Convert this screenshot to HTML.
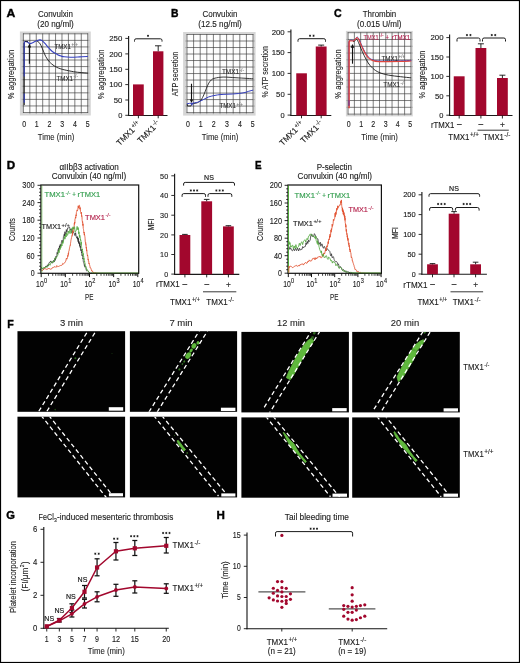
<!DOCTYPE html>
<html><head><meta charset="utf-8"><title>Figure</title>
<style>
html,body{margin:0;padding:0;background:#fff;}
body{width:520px;height:663px;overflow:hidden;}
svg{display:block;font-family:"Liberation Sans",sans-serif;opacity:0.999;}
</style></head><body>
<svg width="520" height="663" viewBox="0 0 520 663">
<rect x="0" y="0" width="520" height="663" fill="#fff" />
<text x="6.5" y="16.8" font-size="11.8" text-anchor="start" fill="#000" stroke="#000" stroke-width="0.4" textLength="8.8" lengthAdjust="spacingAndGlyphs" font-weight="bold">A</text>
<text x="55.5" y="17.2" font-size="8.9" text-anchor="middle" fill="#1c1c1c" stroke="#1c1c1c" stroke-width="0.13" textLength="35" lengthAdjust="spacingAndGlyphs">Convulxin</text>
<text x="55.5" y="27.2" font-size="8.9" text-anchor="middle" fill="#1c1c1c" stroke="#1c1c1c" stroke-width="0.13" textLength="36.5" lengthAdjust="spacingAndGlyphs">(20 ng/ml)</text>
<rect x="19.9" y="31.5" width="70.9" height="84" fill="#d6d6d6" />
<rect x="23.1" y="33.5" width="64.9" height="79.3" fill="#fdfdfd" />
<line x1="23.4" y1="33.4" x2="23.4" y2="112.9" stroke="#3c3c3c" stroke-width="0.66" />
<line x1="29.83" y1="33.4" x2="29.83" y2="112.9" stroke="#3c3c3c" stroke-width="0.66" />
<line x1="29.83" y1="112.9" x2="29.83" y2="114.1" stroke="#9a9a9a" stroke-width="0.7" />
<line x1="36.26" y1="33.4" x2="36.26" y2="112.9" stroke="#3c3c3c" stroke-width="0.66" />
<line x1="36.26" y1="112.9" x2="36.26" y2="114.1" stroke="#9a9a9a" stroke-width="0.7" />
<line x1="42.69" y1="33.4" x2="42.69" y2="112.9" stroke="#3c3c3c" stroke-width="0.66" />
<line x1="42.69" y1="112.9" x2="42.69" y2="114.1" stroke="#9a9a9a" stroke-width="0.7" />
<line x1="49.12" y1="33.4" x2="49.12" y2="112.9" stroke="#3c3c3c" stroke-width="0.66" />
<line x1="49.12" y1="112.9" x2="49.12" y2="114.1" stroke="#9a9a9a" stroke-width="0.7" />
<line x1="55.55" y1="33.4" x2="55.55" y2="112.9" stroke="#3c3c3c" stroke-width="0.66" />
<line x1="55.55" y1="112.9" x2="55.55" y2="114.1" stroke="#9a9a9a" stroke-width="0.7" />
<line x1="61.98" y1="33.4" x2="61.98" y2="112.9" stroke="#3c3c3c" stroke-width="0.66" />
<line x1="61.98" y1="112.9" x2="61.98" y2="114.1" stroke="#9a9a9a" stroke-width="0.7" />
<line x1="68.41" y1="33.4" x2="68.41" y2="112.9" stroke="#3c3c3c" stroke-width="0.66" />
<line x1="68.41" y1="112.9" x2="68.41" y2="114.1" stroke="#9a9a9a" stroke-width="0.7" />
<line x1="74.84" y1="33.4" x2="74.84" y2="112.9" stroke="#3c3c3c" stroke-width="0.66" />
<line x1="74.84" y1="112.9" x2="74.84" y2="114.1" stroke="#9a9a9a" stroke-width="0.7" />
<line x1="81.27" y1="33.4" x2="81.27" y2="112.9" stroke="#3c3c3c" stroke-width="0.66" />
<line x1="81.27" y1="112.9" x2="81.27" y2="114.1" stroke="#9a9a9a" stroke-width="0.7" />
<line x1="87.7" y1="33.4" x2="87.7" y2="112.9" stroke="#3c3c3c" stroke-width="0.66" />
<line x1="23" y1="33.8" x2="88.1" y2="33.8" stroke="#3c3c3c" stroke-width="0.66" />
<line x1="23" y1="40.36" x2="88.1" y2="40.36" stroke="#3c3c3c" stroke-width="0.66" />
<line x1="88.1" y1="40.36" x2="89.5" y2="40.36" stroke="#9a9a9a" stroke-width="0.7" />
<line x1="21.6" y1="40.36" x2="23" y2="40.36" stroke="#9a9a9a" stroke-width="0.7" />
<line x1="23" y1="46.92" x2="88.1" y2="46.92" stroke="#3c3c3c" stroke-width="0.66" />
<line x1="88.1" y1="46.92" x2="89.5" y2="46.92" stroke="#9a9a9a" stroke-width="0.7" />
<line x1="21.6" y1="46.92" x2="23" y2="46.92" stroke="#9a9a9a" stroke-width="0.7" />
<line x1="23" y1="53.47" x2="88.1" y2="53.47" stroke="#3c3c3c" stroke-width="0.66" />
<line x1="88.1" y1="53.47" x2="89.5" y2="53.47" stroke="#9a9a9a" stroke-width="0.7" />
<line x1="21.6" y1="53.47" x2="23" y2="53.47" stroke="#9a9a9a" stroke-width="0.7" />
<line x1="23" y1="60.03" x2="88.1" y2="60.03" stroke="#3c3c3c" stroke-width="0.66" />
<line x1="88.1" y1="60.03" x2="89.5" y2="60.03" stroke="#9a9a9a" stroke-width="0.7" />
<line x1="21.6" y1="60.03" x2="23" y2="60.03" stroke="#9a9a9a" stroke-width="0.7" />
<line x1="23" y1="66.59" x2="88.1" y2="66.59" stroke="#3c3c3c" stroke-width="0.66" />
<line x1="88.1" y1="66.59" x2="89.5" y2="66.59" stroke="#9a9a9a" stroke-width="0.7" />
<line x1="21.6" y1="66.59" x2="23" y2="66.59" stroke="#9a9a9a" stroke-width="0.7" />
<line x1="23" y1="73.15" x2="88.1" y2="73.15" stroke="#3c3c3c" stroke-width="0.66" />
<line x1="88.1" y1="73.15" x2="89.5" y2="73.15" stroke="#9a9a9a" stroke-width="0.7" />
<line x1="21.6" y1="73.15" x2="23" y2="73.15" stroke="#9a9a9a" stroke-width="0.7" />
<line x1="23" y1="79.71" x2="88.1" y2="79.71" stroke="#3c3c3c" stroke-width="0.66" />
<line x1="88.1" y1="79.71" x2="89.5" y2="79.71" stroke="#9a9a9a" stroke-width="0.7" />
<line x1="21.6" y1="79.71" x2="23" y2="79.71" stroke="#9a9a9a" stroke-width="0.7" />
<line x1="23" y1="86.27" x2="88.1" y2="86.27" stroke="#3c3c3c" stroke-width="0.66" />
<line x1="88.1" y1="86.27" x2="89.5" y2="86.27" stroke="#9a9a9a" stroke-width="0.7" />
<line x1="21.6" y1="86.27" x2="23" y2="86.27" stroke="#9a9a9a" stroke-width="0.7" />
<line x1="23" y1="92.83" x2="88.1" y2="92.83" stroke="#3c3c3c" stroke-width="0.66" />
<line x1="88.1" y1="92.83" x2="89.5" y2="92.83" stroke="#9a9a9a" stroke-width="0.7" />
<line x1="21.6" y1="92.83" x2="23" y2="92.83" stroke="#9a9a9a" stroke-width="0.7" />
<line x1="23" y1="99.38" x2="88.1" y2="99.38" stroke="#3c3c3c" stroke-width="0.66" />
<line x1="88.1" y1="99.38" x2="89.5" y2="99.38" stroke="#9a9a9a" stroke-width="0.7" />
<line x1="21.6" y1="99.38" x2="23" y2="99.38" stroke="#9a9a9a" stroke-width="0.7" />
<line x1="23" y1="105.94" x2="88.1" y2="105.94" stroke="#3c3c3c" stroke-width="0.66" />
<line x1="88.1" y1="105.94" x2="89.5" y2="105.94" stroke="#9a9a9a" stroke-width="0.7" />
<line x1="21.6" y1="105.94" x2="23" y2="105.94" stroke="#9a9a9a" stroke-width="0.7" />
<line x1="23" y1="112.5" x2="88.1" y2="112.5" stroke="#3c3c3c" stroke-width="0.66" />
<line x1="24.2" y1="43" x2="24.2" y2="104.9" stroke="#1a1a1a" stroke-width="1.1" />
<path d="M37.2,41.1 C37.53,41.35 38.55,41.83 39.2,42.6 C39.85,43.37 40.4,44.28 41.1,45.7 C41.8,47.12 42.63,49.3 43.4,51.1 C44.17,52.9 44.8,54.83 45.7,56.5 C46.6,58.17 48.02,60.05 48.8,61.1 C49.58,62.15 49.7,62.15 50.4,62.8 C51.1,63.45 51.98,64.27 53,65 C54.02,65.73 55.33,66.6 56.5,67.2 C57.67,67.8 58.72,68.17 60,68.6 C61.28,69.03 61.95,69.28 64.2,69.8 C66.45,70.32 70.67,71.23 73.5,71.7 C76.33,72.17 78.87,72.37 81.2,72.6 C83.53,72.83 86.45,73.02 87.5,73.1" fill="none" stroke="#1a1a1a" stroke-width="0.9" stroke-linejoin="round" stroke-linecap="round" />
<polyline points="24.2,76 24.2,60 24.2,43.4 24.6,42" fill="none" stroke="#3540c0" stroke-width="1.1" stroke-linejoin="round" stroke-linecap="round" />
<path d="M24.6,42 C24.78,41.92 25.22,41.5 25.7,41.5 C26.18,41.5 26.87,41.63 27.5,42 C28.13,42.37 28.75,43.53 29.5,43.7 C30.25,43.87 31,43.42 32,43 C33,42.58 34.5,41.67 35.5,41.2 C36.5,40.73 37.27,40.42 38,40.2 C38.73,39.98 39.23,39.83 39.9,39.9 C40.57,39.97 41.17,40.02 42,40.6 C42.83,41.18 43.77,42.17 44.9,43.4 C46.03,44.63 47.52,46.6 48.8,48 C50.08,49.4 51.2,50.73 52.6,51.8 C54,52.87 55.8,53.7 57.2,54.4 C58.6,55.1 59.83,55.6 61,56 C62.17,56.4 62.63,56.6 64.2,56.8 C65.77,57 67.83,57.18 70.4,57.2 C72.97,57.22 76.75,57.02 79.6,56.9 C82.45,56.78 86.18,56.57 87.5,56.5" fill="none" stroke="#3540c0" stroke-width="1.1" stroke-linejoin="round" stroke-linecap="round" />
<line x1="24.8" y1="41.5" x2="28" y2="41.6" stroke="#15153a" stroke-width="0.9" />
<line x1="24.2" y1="93.6" x2="24.2" y2="102.8" stroke="#3540c0" stroke-width="1.1" />
<line x1="29.4" y1="63.7" x2="29.4" y2="45.88" stroke="#111" stroke-width="1.1" />
<path d="M29.4,43.6 L27.65,47.4 L31.15,47.4 Z" fill="#111"/>
<text x="54.4" y="48.5" font-size="6.6" text-anchor="start" fill="#2a2a2a" stroke="#2a2a2a" stroke-width="0.08" textLength="16.5" lengthAdjust="spacingAndGlyphs">TMX1</text>
<text x="71.4" y="46.26" font-size="5.15" text-anchor="start" fill="#777" stroke="#777" stroke-width="0.12" textLength="6.5" lengthAdjust="spacingAndGlyphs">+/+</text>
<text x="56.5" y="80.6" font-size="6.6" text-anchor="start" fill="#2a2a2a" stroke="#2a2a2a" stroke-width="0.08" textLength="16.5" lengthAdjust="spacingAndGlyphs">TMX1</text>
<text x="73.5" y="78.36" font-size="5.15" text-anchor="start" fill="#777" stroke="#777" stroke-width="0.12" textLength="4.6" lengthAdjust="spacingAndGlyphs">-/-</text>
<text x="24.25" y="126.6" font-size="9" text-anchor="middle" fill="#1c1c1c" stroke="#1c1c1c" stroke-width="0.13" textLength="3.9" lengthAdjust="spacingAndGlyphs">0</text>
<text x="36.75" y="126.6" font-size="9" text-anchor="middle" fill="#1c1c1c" stroke="#1c1c1c" stroke-width="0.13" textLength="3.9" lengthAdjust="spacingAndGlyphs">1</text>
<text x="49.4" y="126.6" font-size="9" text-anchor="middle" fill="#1c1c1c" stroke="#1c1c1c" stroke-width="0.13" textLength="3.9" lengthAdjust="spacingAndGlyphs">2</text>
<text x="62.1" y="126.6" font-size="9" text-anchor="middle" fill="#1c1c1c" stroke="#1c1c1c" stroke-width="0.13" textLength="3.9" lengthAdjust="spacingAndGlyphs">3</text>
<text x="75" y="126.6" font-size="9" text-anchor="middle" fill="#1c1c1c" stroke="#1c1c1c" stroke-width="0.13" textLength="3.9" lengthAdjust="spacingAndGlyphs">4</text>
<text x="87.6" y="126.6" font-size="9" text-anchor="middle" fill="#1c1c1c" stroke="#1c1c1c" stroke-width="0.13" textLength="3.9" lengthAdjust="spacingAndGlyphs">5</text>
<text x="56" y="139.5" font-size="9.5" text-anchor="middle" fill="#1c1c1c" stroke="#1c1c1c" stroke-width="0.1" textLength="36.5" lengthAdjust="spacingAndGlyphs">Time (min)</text>
<text x="13.6" y="74.5" font-size="9.5" text-anchor="middle" fill="#1c1c1c" stroke="#1c1c1c" stroke-width="0.1" textLength="49.5" lengthAdjust="spacingAndGlyphs" transform="rotate(-90 13.6 74.5)">% aggregation</text>
<text x="103.9" y="74.3" font-size="9.3" text-anchor="middle" fill="#1c1c1c" stroke="#1c1c1c" stroke-width="0.1" textLength="50" lengthAdjust="spacingAndGlyphs" transform="rotate(-90 103.9 74.3)">% aggregation</text>
<line x1="128.6" y1="36" x2="128.6" y2="116.05" stroke="#1a1a1a" stroke-width="1.15" />
<line x1="128.05" y1="115.5" x2="167.5" y2="115.5" stroke="#1a1a1a" stroke-width="1.15" />
<line x1="125.3" y1="38.4" x2="128.6" y2="38.4" stroke="#1a1a1a" stroke-width="0.9" />
<text x="122.3" y="41.17" font-size="7.7" text-anchor="end" fill="#1c1c1c" stroke="#1c1c1c" stroke-width="0.13" textLength="13.05" lengthAdjust="spacingAndGlyphs">250</text>
<line x1="125.3" y1="53.9" x2="128.6" y2="53.9" stroke="#1a1a1a" stroke-width="0.9" />
<text x="122.3" y="56.67" font-size="7.7" text-anchor="end" fill="#1c1c1c" stroke="#1c1c1c" stroke-width="0.13" textLength="13.05" lengthAdjust="spacingAndGlyphs">200</text>
<line x1="125.3" y1="69.3" x2="128.6" y2="69.3" stroke="#1a1a1a" stroke-width="0.9" />
<text x="122.3" y="72.07" font-size="7.7" text-anchor="end" fill="#1c1c1c" stroke="#1c1c1c" stroke-width="0.13" textLength="13.05" lengthAdjust="spacingAndGlyphs">150</text>
<line x1="125.3" y1="84.6" x2="128.6" y2="84.6" stroke="#1a1a1a" stroke-width="0.9" />
<text x="122.3" y="87.37" font-size="7.7" text-anchor="end" fill="#1c1c1c" stroke="#1c1c1c" stroke-width="0.13" textLength="13.05" lengthAdjust="spacingAndGlyphs">100</text>
<line x1="125.3" y1="100" x2="128.6" y2="100" stroke="#1a1a1a" stroke-width="0.9" />
<text x="122.3" y="102.77" font-size="7.7" text-anchor="end" fill="#1c1c1c" stroke="#1c1c1c" stroke-width="0.13" textLength="8.6" lengthAdjust="spacingAndGlyphs">50</text>
<line x1="125.3" y1="115.3" x2="128.6" y2="115.3" stroke="#1a1a1a" stroke-width="0.9" />
<text x="122.3" y="118.07" font-size="7.7" text-anchor="end" fill="#1c1c1c" stroke="#1c1c1c" stroke-width="0.13" textLength="4.15" lengthAdjust="spacingAndGlyphs">0</text>
<rect x="133" y="84.4" width="10.75" height="31.1" fill="#a2072d" />
<rect x="153" y="51.3" width="10.4" height="64.2" fill="#a2072d" />
<line x1="158.2" y1="51.3" x2="158.2" y2="45.8" stroke="#111" stroke-width="0.9" />
<line x1="155" y1="45.8" x2="161.4" y2="45.8" stroke="#111" stroke-width="0.9" />
<path d="M134.5,41.6 L134.5,40.4 Q134.5,38.8 136.1,38.8 L160.4,38.8 Q162,38.8 162,40.4 L162,41.6" fill="none" stroke="#1a1a1a" stroke-width="1"/>
<circle cx="148" cy="35.8" r="0.75" fill="#1e1e1e"/>
<line x1="148" y1="34.65" x2="148" y2="36.95" stroke="#1e1e1e" stroke-width="0.55"/>
<line x1="147" y1="35.22" x2="149" y2="36.38" stroke="#1e1e1e" stroke-width="0.55"/>
<line x1="149" y1="35.22" x2="147" y2="36.38" stroke="#1e1e1e" stroke-width="0.55"/>
<line x1="138.4" y1="115.5" x2="138.4" y2="118.3" stroke="#111" stroke-width="0.9" />
<line x1="158.2" y1="115.5" x2="158.2" y2="118.3" stroke="#111" stroke-width="0.9" />
<g transform="rotate(-45 141 124.8)">
<text x="110.8" y="124.8" font-size="8.3" text-anchor="start" fill="#1c1c1c" stroke="#1c1c1c" stroke-width="0.13" textLength="21.9" lengthAdjust="spacingAndGlyphs">TMX1</text>
<text x="133.2" y="121.98" font-size="6.47" text-anchor="start" fill="#1c1c1c" stroke="#1c1c1c" stroke-width="0.12" textLength="8" lengthAdjust="spacingAndGlyphs">+/+</text>
</g>
<g transform="rotate(-45 160.4 124.2)">
<text x="132.6" y="124.2" font-size="8.3" text-anchor="start" fill="#1c1c1c" stroke="#1c1c1c" stroke-width="0.13" textLength="21.9" lengthAdjust="spacingAndGlyphs">TMX1</text>
<text x="155" y="121.38" font-size="6.47" text-anchor="start" fill="#1c1c1c" stroke="#1c1c1c" stroke-width="0.12" textLength="5.6" lengthAdjust="spacingAndGlyphs">-/-</text>
</g>
<text x="171.1" y="16.8" font-size="11.8" text-anchor="start" fill="#000" stroke="#000" stroke-width="0.4" textLength="7.5" lengthAdjust="spacingAndGlyphs" font-weight="bold">B</text>
<text x="220" y="17.2" font-size="8.9" text-anchor="middle" fill="#1c1c1c" stroke="#1c1c1c" stroke-width="0.13" textLength="35" lengthAdjust="spacingAndGlyphs">Convulxin</text>
<text x="220" y="27.2" font-size="8.9" text-anchor="middle" fill="#1c1c1c" stroke="#1c1c1c" stroke-width="0.13" textLength="43.5" lengthAdjust="spacingAndGlyphs">(12.5 ng/ml)</text>
<rect x="183.1" y="32" width="72.5" height="83.6" fill="#d6d6d6" />
<rect x="186.7" y="34.2" width="66.6" height="78.7" fill="#fdfdfd" />
<line x1="187" y1="34.1" x2="187" y2="113" stroke="#3c3c3c" stroke-width="0.66" />
<line x1="193.6" y1="34.1" x2="193.6" y2="113" stroke="#3c3c3c" stroke-width="0.66" />
<line x1="193.6" y1="113" x2="193.6" y2="114.2" stroke="#9a9a9a" stroke-width="0.7" />
<line x1="200.2" y1="34.1" x2="200.2" y2="113" stroke="#3c3c3c" stroke-width="0.66" />
<line x1="200.2" y1="113" x2="200.2" y2="114.2" stroke="#9a9a9a" stroke-width="0.7" />
<line x1="206.8" y1="34.1" x2="206.8" y2="113" stroke="#3c3c3c" stroke-width="0.66" />
<line x1="206.8" y1="113" x2="206.8" y2="114.2" stroke="#9a9a9a" stroke-width="0.7" />
<line x1="213.4" y1="34.1" x2="213.4" y2="113" stroke="#3c3c3c" stroke-width="0.66" />
<line x1="213.4" y1="113" x2="213.4" y2="114.2" stroke="#9a9a9a" stroke-width="0.7" />
<line x1="220" y1="34.1" x2="220" y2="113" stroke="#3c3c3c" stroke-width="0.66" />
<line x1="220" y1="113" x2="220" y2="114.2" stroke="#9a9a9a" stroke-width="0.7" />
<line x1="226.6" y1="34.1" x2="226.6" y2="113" stroke="#3c3c3c" stroke-width="0.66" />
<line x1="226.6" y1="113" x2="226.6" y2="114.2" stroke="#9a9a9a" stroke-width="0.7" />
<line x1="233.2" y1="34.1" x2="233.2" y2="113" stroke="#3c3c3c" stroke-width="0.66" />
<line x1="233.2" y1="113" x2="233.2" y2="114.2" stroke="#9a9a9a" stroke-width="0.7" />
<line x1="239.8" y1="34.1" x2="239.8" y2="113" stroke="#3c3c3c" stroke-width="0.66" />
<line x1="239.8" y1="113" x2="239.8" y2="114.2" stroke="#9a9a9a" stroke-width="0.7" />
<line x1="246.4" y1="34.1" x2="246.4" y2="113" stroke="#3c3c3c" stroke-width="0.66" />
<line x1="246.4" y1="113" x2="246.4" y2="114.2" stroke="#9a9a9a" stroke-width="0.7" />
<line x1="253" y1="34.1" x2="253" y2="113" stroke="#3c3c3c" stroke-width="0.66" />
<line x1="186.6" y1="34.5" x2="253.4" y2="34.5" stroke="#3c3c3c" stroke-width="0.66" />
<line x1="186.6" y1="41.01" x2="253.4" y2="41.01" stroke="#3c3c3c" stroke-width="0.66" />
<line x1="253.4" y1="41.01" x2="254.8" y2="41.01" stroke="#9a9a9a" stroke-width="0.7" />
<line x1="185.2" y1="41.01" x2="186.6" y2="41.01" stroke="#9a9a9a" stroke-width="0.7" />
<line x1="186.6" y1="47.52" x2="253.4" y2="47.52" stroke="#3c3c3c" stroke-width="0.66" />
<line x1="253.4" y1="47.52" x2="254.8" y2="47.52" stroke="#9a9a9a" stroke-width="0.7" />
<line x1="185.2" y1="47.52" x2="186.6" y2="47.52" stroke="#9a9a9a" stroke-width="0.7" />
<line x1="186.6" y1="54.02" x2="253.4" y2="54.02" stroke="#3c3c3c" stroke-width="0.66" />
<line x1="253.4" y1="54.02" x2="254.8" y2="54.02" stroke="#9a9a9a" stroke-width="0.7" />
<line x1="185.2" y1="54.02" x2="186.6" y2="54.02" stroke="#9a9a9a" stroke-width="0.7" />
<line x1="186.6" y1="60.53" x2="253.4" y2="60.53" stroke="#3c3c3c" stroke-width="0.66" />
<line x1="253.4" y1="60.53" x2="254.8" y2="60.53" stroke="#9a9a9a" stroke-width="0.7" />
<line x1="185.2" y1="60.53" x2="186.6" y2="60.53" stroke="#9a9a9a" stroke-width="0.7" />
<line x1="186.6" y1="67.04" x2="253.4" y2="67.04" stroke="#3c3c3c" stroke-width="0.66" />
<line x1="253.4" y1="67.04" x2="254.8" y2="67.04" stroke="#9a9a9a" stroke-width="0.7" />
<line x1="185.2" y1="67.04" x2="186.6" y2="67.04" stroke="#9a9a9a" stroke-width="0.7" />
<line x1="186.6" y1="73.55" x2="253.4" y2="73.55" stroke="#3c3c3c" stroke-width="0.66" />
<line x1="253.4" y1="73.55" x2="254.8" y2="73.55" stroke="#9a9a9a" stroke-width="0.7" />
<line x1="185.2" y1="73.55" x2="186.6" y2="73.55" stroke="#9a9a9a" stroke-width="0.7" />
<line x1="186.6" y1="80.06" x2="253.4" y2="80.06" stroke="#3c3c3c" stroke-width="0.66" />
<line x1="253.4" y1="80.06" x2="254.8" y2="80.06" stroke="#9a9a9a" stroke-width="0.7" />
<line x1="185.2" y1="80.06" x2="186.6" y2="80.06" stroke="#9a9a9a" stroke-width="0.7" />
<line x1="186.6" y1="86.57" x2="253.4" y2="86.57" stroke="#3c3c3c" stroke-width="0.66" />
<line x1="253.4" y1="86.57" x2="254.8" y2="86.57" stroke="#9a9a9a" stroke-width="0.7" />
<line x1="185.2" y1="86.57" x2="186.6" y2="86.57" stroke="#9a9a9a" stroke-width="0.7" />
<line x1="186.6" y1="93.07" x2="253.4" y2="93.07" stroke="#3c3c3c" stroke-width="0.66" />
<line x1="253.4" y1="93.07" x2="254.8" y2="93.07" stroke="#9a9a9a" stroke-width="0.7" />
<line x1="185.2" y1="93.07" x2="186.6" y2="93.07" stroke="#9a9a9a" stroke-width="0.7" />
<line x1="186.6" y1="99.58" x2="253.4" y2="99.58" stroke="#3c3c3c" stroke-width="0.66" />
<line x1="253.4" y1="99.58" x2="254.8" y2="99.58" stroke="#9a9a9a" stroke-width="0.7" />
<line x1="185.2" y1="99.58" x2="186.6" y2="99.58" stroke="#9a9a9a" stroke-width="0.7" />
<line x1="186.6" y1="106.09" x2="253.4" y2="106.09" stroke="#3c3c3c" stroke-width="0.66" />
<line x1="253.4" y1="106.09" x2="254.8" y2="106.09" stroke="#9a9a9a" stroke-width="0.7" />
<line x1="185.2" y1="106.09" x2="186.6" y2="106.09" stroke="#9a9a9a" stroke-width="0.7" />
<line x1="186.6" y1="112.6" x2="253.4" y2="112.6" stroke="#3c3c3c" stroke-width="0.66" />
<polyline points="187.25,104.38 187.5,106 191,106 191.62,103.75" fill="none" stroke="#1a1a1a" stroke-width="0.85" stroke-linejoin="round" stroke-linecap="round" />
<path d="M191.62,103.75 C192.4,103.65 195.06,103.44 196.25,103.12 C197.44,102.81 197.92,102.44 198.75,101.88 C199.58,101.31 200.42,100.9 201.25,99.75 C202.08,98.6 202.92,96.83 203.75,95 C204.58,93.17 205.42,90.73 206.25,88.75 C207.08,86.77 207.92,84.58 208.75,83.12 C209.58,81.67 210.42,80.77 211.25,80 C212.08,79.23 212.29,78.96 213.75,78.5 C215.21,78.04 217.92,77.48 220,77.25 C222.08,77.02 224.17,77.06 226.25,77.1 C228.33,77.14 230.42,77.37 232.5,77.5 C234.58,77.63 236.67,77.78 238.75,77.9 C240.83,78.03 242.66,78.11 245,78.25 C247.34,78.39 251.5,78.67 252.8,78.75" fill="none" stroke="#1a1a1a" stroke-width="0.85" stroke-linejoin="round" stroke-linecap="round" />
<polyline points="187.25,103.75 189.38,103.38 191.25,103.12 191.88,105.25 192.5,103.25" fill="none" stroke="#3540c0" stroke-width="1" stroke-linejoin="round" stroke-linecap="round" />
<path d="M192.5,103.25 C193.12,103.12 195.21,102.73 196.25,102.5 C197.29,102.27 197.5,102.4 198.75,101.88 C200,101.35 202.08,100.21 203.75,99.38 C205.42,98.54 206.88,97.54 208.75,96.88 C210.62,96.21 213.12,95.75 215,95.38 C216.88,95 218.12,94.79 220,94.6 C221.88,94.41 224.17,94.35 226.25,94.25 C228.33,94.15 230.42,94.12 232.5,94 C234.58,93.88 236.67,93.75 238.75,93.5 C240.83,93.25 243.33,92.88 245,92.5 C246.67,92.12 247.45,91.63 248.75,91.25 C250.05,90.87 252.12,90.38 252.8,90.2" fill="none" stroke="#3540c0" stroke-width="1" stroke-linejoin="round" stroke-linecap="round" />
<line x1="191.5" y1="83.75" x2="191.5" y2="101" stroke="#111" stroke-width="1.1" />
<path d="M191.5,103.1 L189.75,99.6 L193.25,99.6 Z" fill="#111"/>
<text x="221.9" y="74.1" font-size="6.6" text-anchor="start" fill="#2a2a2a" stroke="#2a2a2a" stroke-width="0.08" textLength="17.1" lengthAdjust="spacingAndGlyphs">TMX1</text>
<text x="239.5" y="71.86" font-size="5.15" text-anchor="start" fill="#777" stroke="#777" stroke-width="0.12" textLength="4.6" lengthAdjust="spacingAndGlyphs">-/-</text>
<text x="219.4" y="107.75" font-size="6.6" text-anchor="start" fill="#2a2a2a" stroke="#2a2a2a" stroke-width="0.08" textLength="16.5" lengthAdjust="spacingAndGlyphs">TMX1</text>
<text x="236.4" y="105.51" font-size="5.15" text-anchor="start" fill="#777" stroke="#777" stroke-width="0.12" textLength="6.5" lengthAdjust="spacingAndGlyphs">+/+</text>
<text x="188" y="126.6" font-size="9" text-anchor="middle" fill="#1c1c1c" stroke="#1c1c1c" stroke-width="0.13" textLength="3.9" lengthAdjust="spacingAndGlyphs">0</text>
<text x="200.75" y="126.6" font-size="9" text-anchor="middle" fill="#1c1c1c" stroke="#1c1c1c" stroke-width="0.13" textLength="3.9" lengthAdjust="spacingAndGlyphs">1</text>
<text x="213.75" y="126.6" font-size="9" text-anchor="middle" fill="#1c1c1c" stroke="#1c1c1c" stroke-width="0.13" textLength="3.9" lengthAdjust="spacingAndGlyphs">2</text>
<text x="227" y="126.6" font-size="9" text-anchor="middle" fill="#1c1c1c" stroke="#1c1c1c" stroke-width="0.13" textLength="3.9" lengthAdjust="spacingAndGlyphs">3</text>
<text x="240" y="126.6" font-size="9" text-anchor="middle" fill="#1c1c1c" stroke="#1c1c1c" stroke-width="0.13" textLength="3.9" lengthAdjust="spacingAndGlyphs">4</text>
<text x="252.75" y="126.6" font-size="9" text-anchor="middle" fill="#1c1c1c" stroke="#1c1c1c" stroke-width="0.13" textLength="3.9" lengthAdjust="spacingAndGlyphs">5</text>
<text x="220" y="139.5" font-size="9.5" text-anchor="middle" fill="#1c1c1c" stroke="#1c1c1c" stroke-width="0.1" textLength="36.5" lengthAdjust="spacingAndGlyphs">Time (min)</text>
<text x="177.6" y="74" font-size="9.5" text-anchor="middle" fill="#1c1c1c" stroke="#1c1c1c" stroke-width="0.1" textLength="44.5" lengthAdjust="spacingAndGlyphs" transform="rotate(-90 177.6 74)">ATP secretion</text>
<text x="267.8" y="71.8" font-size="9.5" text-anchor="middle" fill="#1c1c1c" stroke="#1c1c1c" stroke-width="0.1" textLength="51.5" lengthAdjust="spacingAndGlyphs" transform="rotate(-90 267.8 71.8)">% ATP secretion</text>
<line x1="290.9" y1="29.5" x2="290.9" y2="116.05" stroke="#1a1a1a" stroke-width="1.15" />
<line x1="290.35" y1="115.5" x2="331.3" y2="115.5" stroke="#1a1a1a" stroke-width="1.15" />
<line x1="287.6" y1="31.8" x2="290.9" y2="31.8" stroke="#1a1a1a" stroke-width="0.9" />
<text x="284.7" y="34.57" font-size="7.7" text-anchor="end" fill="#1c1c1c" stroke="#1c1c1c" stroke-width="0.13" textLength="13.05" lengthAdjust="spacingAndGlyphs">200</text>
<line x1="287.6" y1="52.6" x2="290.9" y2="52.6" stroke="#1a1a1a" stroke-width="0.9" />
<text x="284.7" y="55.37" font-size="7.7" text-anchor="end" fill="#1c1c1c" stroke="#1c1c1c" stroke-width="0.13" textLength="13.05" lengthAdjust="spacingAndGlyphs">150</text>
<line x1="287.6" y1="73.4" x2="290.9" y2="73.4" stroke="#1a1a1a" stroke-width="0.9" />
<text x="284.7" y="76.17" font-size="7.7" text-anchor="end" fill="#1c1c1c" stroke="#1c1c1c" stroke-width="0.13" textLength="13.05" lengthAdjust="spacingAndGlyphs">100</text>
<line x1="287.6" y1="94.3" x2="290.9" y2="94.3" stroke="#1a1a1a" stroke-width="0.9" />
<text x="284.7" y="97.07" font-size="7.7" text-anchor="end" fill="#1c1c1c" stroke="#1c1c1c" stroke-width="0.13" textLength="8.6" lengthAdjust="spacingAndGlyphs">50</text>
<line x1="287.6" y1="115.1" x2="290.9" y2="115.1" stroke="#1a1a1a" stroke-width="0.9" />
<text x="284.7" y="117.87" font-size="7.7" text-anchor="end" fill="#1c1c1c" stroke="#1c1c1c" stroke-width="0.13" textLength="4.15" lengthAdjust="spacingAndGlyphs">0</text>
<rect x="296.25" y="73.3" width="10.65" height="42.2" fill="#a2072d" />
<rect x="315.75" y="46.5" width="10.85" height="69" fill="#a2072d" />
<line x1="321.18" y1="46.5" x2="321.18" y2="45.1" stroke="#111" stroke-width="0.9" />
<line x1="318.18" y1="45.1" x2="324.18" y2="45.1" stroke="#111" stroke-width="0.9" />
<path d="M298,41.7 L298,40.3 Q298,38.7 299.6,38.7 L323.9,38.7 Q325.5,38.7 325.5,40.3 L325.5,41.7" fill="none" stroke="#1a1a1a" stroke-width="1"/>
<circle cx="310.05" cy="35.7" r="0.75" fill="#1e1e1e"/>
<line x1="310.05" y1="34.55" x2="310.05" y2="36.85" stroke="#1e1e1e" stroke-width="0.55"/>
<line x1="309.05" y1="35.12" x2="311.05" y2="36.28" stroke="#1e1e1e" stroke-width="0.55"/>
<line x1="311.05" y1="35.12" x2="309.05" y2="36.28" stroke="#1e1e1e" stroke-width="0.55"/>
<circle cx="313.55" cy="35.7" r="0.75" fill="#1e1e1e"/>
<line x1="313.55" y1="34.55" x2="313.55" y2="36.85" stroke="#1e1e1e" stroke-width="0.55"/>
<line x1="312.55" y1="35.12" x2="314.55" y2="36.28" stroke="#1e1e1e" stroke-width="0.55"/>
<line x1="314.55" y1="35.12" x2="312.55" y2="36.28" stroke="#1e1e1e" stroke-width="0.55"/>
<line x1="301.5" y1="115.5" x2="301.5" y2="118.3" stroke="#111" stroke-width="0.9" />
<line x1="321.2" y1="115.5" x2="321.2" y2="118.3" stroke="#111" stroke-width="0.9" />
<g transform="rotate(-45 304.1 124.8)">
<text x="273.9" y="124.8" font-size="8.3" text-anchor="start" fill="#1c1c1c" stroke="#1c1c1c" stroke-width="0.13" textLength="21.9" lengthAdjust="spacingAndGlyphs">TMX1</text>
<text x="296.3" y="121.98" font-size="6.47" text-anchor="start" fill="#1c1c1c" stroke="#1c1c1c" stroke-width="0.12" textLength="8" lengthAdjust="spacingAndGlyphs">+/+</text>
</g>
<g transform="rotate(-45 323.4 124.2)">
<text x="295.6" y="124.2" font-size="8.3" text-anchor="start" fill="#1c1c1c" stroke="#1c1c1c" stroke-width="0.13" textLength="21.9" lengthAdjust="spacingAndGlyphs">TMX1</text>
<text x="318" y="121.38" font-size="6.47" text-anchor="start" fill="#1c1c1c" stroke="#1c1c1c" stroke-width="0.12" textLength="5.6" lengthAdjust="spacingAndGlyphs">-/-</text>
</g>
<text x="334.1" y="16.8" font-size="11.8" text-anchor="start" fill="#000" stroke="#000" stroke-width="0.4" textLength="7.7" lengthAdjust="spacingAndGlyphs" font-weight="bold">C</text>
<text x="379.5" y="17.2" font-size="8.9" text-anchor="middle" fill="#1c1c1c" stroke="#1c1c1c" stroke-width="0.13" textLength="33.5" lengthAdjust="spacingAndGlyphs">Thrombin</text>
<text x="379.3" y="27.2" font-size="8.9" text-anchor="middle" fill="#1c1c1c" stroke="#1c1c1c" stroke-width="0.13" textLength="44.5" lengthAdjust="spacingAndGlyphs">(0.015 U/ml)</text>
<rect x="345.9" y="30.9" width="66.9" height="85.5" fill="#d6d6d6" />
<rect x="347.8" y="32.4" width="63.4" height="82" fill="#fdfdfd" />
<line x1="348.1" y1="32.3" x2="348.1" y2="114.5" stroke="#3c3c3c" stroke-width="0.66" />
<line x1="354.38" y1="32.3" x2="354.38" y2="114.5" stroke="#3c3c3c" stroke-width="0.66" />
<line x1="354.38" y1="114.5" x2="354.38" y2="115.7" stroke="#9a9a9a" stroke-width="0.7" />
<line x1="360.66" y1="32.3" x2="360.66" y2="114.5" stroke="#3c3c3c" stroke-width="0.66" />
<line x1="360.66" y1="114.5" x2="360.66" y2="115.7" stroke="#9a9a9a" stroke-width="0.7" />
<line x1="366.94" y1="32.3" x2="366.94" y2="114.5" stroke="#3c3c3c" stroke-width="0.66" />
<line x1="366.94" y1="114.5" x2="366.94" y2="115.7" stroke="#9a9a9a" stroke-width="0.7" />
<line x1="373.22" y1="32.3" x2="373.22" y2="114.5" stroke="#3c3c3c" stroke-width="0.66" />
<line x1="373.22" y1="114.5" x2="373.22" y2="115.7" stroke="#9a9a9a" stroke-width="0.7" />
<line x1="379.5" y1="32.3" x2="379.5" y2="114.5" stroke="#3c3c3c" stroke-width="0.66" />
<line x1="379.5" y1="114.5" x2="379.5" y2="115.7" stroke="#9a9a9a" stroke-width="0.7" />
<line x1="385.78" y1="32.3" x2="385.78" y2="114.5" stroke="#3c3c3c" stroke-width="0.66" />
<line x1="385.78" y1="114.5" x2="385.78" y2="115.7" stroke="#9a9a9a" stroke-width="0.7" />
<line x1="392.06" y1="32.3" x2="392.06" y2="114.5" stroke="#3c3c3c" stroke-width="0.66" />
<line x1="392.06" y1="114.5" x2="392.06" y2="115.7" stroke="#9a9a9a" stroke-width="0.7" />
<line x1="398.34" y1="32.3" x2="398.34" y2="114.5" stroke="#3c3c3c" stroke-width="0.66" />
<line x1="398.34" y1="114.5" x2="398.34" y2="115.7" stroke="#9a9a9a" stroke-width="0.7" />
<line x1="404.62" y1="32.3" x2="404.62" y2="114.5" stroke="#3c3c3c" stroke-width="0.66" />
<line x1="404.62" y1="114.5" x2="404.62" y2="115.7" stroke="#9a9a9a" stroke-width="0.7" />
<line x1="410.9" y1="32.3" x2="410.9" y2="114.5" stroke="#3c3c3c" stroke-width="0.66" />
<line x1="347.7" y1="32.7" x2="411.3" y2="32.7" stroke="#3c3c3c" stroke-width="0.66" />
<line x1="347.7" y1="39.48" x2="411.3" y2="39.48" stroke="#3c3c3c" stroke-width="0.66" />
<line x1="411.3" y1="39.48" x2="412.7" y2="39.48" stroke="#9a9a9a" stroke-width="0.7" />
<line x1="346.3" y1="39.48" x2="347.7" y2="39.48" stroke="#9a9a9a" stroke-width="0.7" />
<line x1="347.7" y1="46.27" x2="411.3" y2="46.27" stroke="#3c3c3c" stroke-width="0.66" />
<line x1="411.3" y1="46.27" x2="412.7" y2="46.27" stroke="#9a9a9a" stroke-width="0.7" />
<line x1="346.3" y1="46.27" x2="347.7" y2="46.27" stroke="#9a9a9a" stroke-width="0.7" />
<line x1="347.7" y1="53.05" x2="411.3" y2="53.05" stroke="#3c3c3c" stroke-width="0.66" />
<line x1="411.3" y1="53.05" x2="412.7" y2="53.05" stroke="#9a9a9a" stroke-width="0.7" />
<line x1="346.3" y1="53.05" x2="347.7" y2="53.05" stroke="#9a9a9a" stroke-width="0.7" />
<line x1="347.7" y1="59.83" x2="411.3" y2="59.83" stroke="#3c3c3c" stroke-width="0.66" />
<line x1="411.3" y1="59.83" x2="412.7" y2="59.83" stroke="#9a9a9a" stroke-width="0.7" />
<line x1="346.3" y1="59.83" x2="347.7" y2="59.83" stroke="#9a9a9a" stroke-width="0.7" />
<line x1="347.7" y1="66.62" x2="411.3" y2="66.62" stroke="#3c3c3c" stroke-width="0.66" />
<line x1="411.3" y1="66.62" x2="412.7" y2="66.62" stroke="#9a9a9a" stroke-width="0.7" />
<line x1="346.3" y1="66.62" x2="347.7" y2="66.62" stroke="#9a9a9a" stroke-width="0.7" />
<line x1="347.7" y1="73.4" x2="411.3" y2="73.4" stroke="#3c3c3c" stroke-width="0.66" />
<line x1="411.3" y1="73.4" x2="412.7" y2="73.4" stroke="#9a9a9a" stroke-width="0.7" />
<line x1="346.3" y1="73.4" x2="347.7" y2="73.4" stroke="#9a9a9a" stroke-width="0.7" />
<line x1="347.7" y1="80.18" x2="411.3" y2="80.18" stroke="#3c3c3c" stroke-width="0.66" />
<line x1="411.3" y1="80.18" x2="412.7" y2="80.18" stroke="#9a9a9a" stroke-width="0.7" />
<line x1="346.3" y1="80.18" x2="347.7" y2="80.18" stroke="#9a9a9a" stroke-width="0.7" />
<line x1="347.7" y1="86.97" x2="411.3" y2="86.97" stroke="#3c3c3c" stroke-width="0.66" />
<line x1="411.3" y1="86.97" x2="412.7" y2="86.97" stroke="#9a9a9a" stroke-width="0.7" />
<line x1="346.3" y1="86.97" x2="347.7" y2="86.97" stroke="#9a9a9a" stroke-width="0.7" />
<line x1="347.7" y1="93.75" x2="411.3" y2="93.75" stroke="#3c3c3c" stroke-width="0.66" />
<line x1="411.3" y1="93.75" x2="412.7" y2="93.75" stroke="#9a9a9a" stroke-width="0.7" />
<line x1="346.3" y1="93.75" x2="347.7" y2="93.75" stroke="#9a9a9a" stroke-width="0.7" />
<line x1="347.7" y1="100.53" x2="411.3" y2="100.53" stroke="#3c3c3c" stroke-width="0.66" />
<line x1="411.3" y1="100.53" x2="412.7" y2="100.53" stroke="#9a9a9a" stroke-width="0.7" />
<line x1="346.3" y1="100.53" x2="347.7" y2="100.53" stroke="#9a9a9a" stroke-width="0.7" />
<line x1="347.7" y1="107.32" x2="411.3" y2="107.32" stroke="#3c3c3c" stroke-width="0.66" />
<line x1="411.3" y1="107.32" x2="412.7" y2="107.32" stroke="#9a9a9a" stroke-width="0.7" />
<line x1="346.3" y1="107.32" x2="347.7" y2="107.32" stroke="#9a9a9a" stroke-width="0.7" />
<line x1="347.7" y1="114.1" x2="411.3" y2="114.1" stroke="#3c3c3c" stroke-width="0.66" />
<path d="M353.4,41.6 C353.7,41.43 354.63,40.95 355.2,40.6 C355.77,40.25 356.23,39.17 356.8,39.5 C357.37,39.83 357.93,41.15 358.6,42.6 C359.27,44.05 359.87,46.03 360.8,48.2 C361.73,50.37 362.97,53.13 364.2,55.6 C365.43,58.07 366.75,60.87 368.2,63 C369.65,65.13 371.1,66.83 372.9,68.4 C374.7,69.97 376.42,71.28 379,72.4 C381.58,73.52 384.82,74.38 388.4,75.1 C391.98,75.82 396.77,76.25 400.5,76.7 C404.23,77.15 409.08,77.62 410.8,77.8" fill="none" stroke="#1a1a1a" stroke-width="0.9" stroke-linejoin="round" stroke-linecap="round" />
<line x1="348.75" y1="41.5" x2="348.75" y2="106" stroke="#3540c0" stroke-width="1" />
<path d="M349.65,40.45 C349.9,40.4 350.5,40.15 351.15,40.15 C351.8,40.15 352.83,40.67 353.55,40.45 C354.27,40.23 354.84,39.4 355.45,38.85 C356.06,38.3 356.62,37.12 357.2,37.15 C357.78,37.18 358.32,37.97 358.95,39.05 C359.57,40.13 360.05,41.65 360.95,43.65 C361.85,45.65 363.12,48.82 364.35,51.05 C365.58,53.28 366.9,55.55 368.35,57.05 C369.8,58.55 371.25,59.38 373.05,60.05 C374.85,60.72 376.57,60.88 379.15,61.05 C381.73,61.22 384.97,61.08 388.55,61.05 C392.13,61.02 396.92,60.95 400.65,60.85 C404.38,60.75 409.23,60.52 410.95,60.45" fill="none" stroke="#3540c0" stroke-width="1" stroke-linejoin="round" stroke-linecap="round" />
<polyline points="349.1,107.7 349.1,70 349.1,42.2 349.5,41" fill="none" stroke="#e0463e" stroke-width="1.5" stroke-linejoin="round" stroke-linecap="round" />
<path d="M349.5,41 C349.75,40.95 350.35,40.7 351,40.7 C351.65,40.7 352.68,41.22 353.4,41 C354.12,40.78 354.69,39.95 355.3,39.4 C355.91,38.85 356.47,37.67 357.05,37.7 C357.63,37.73 358.18,38.52 358.8,39.6 C359.43,40.68 359.9,42.2 360.8,44.2 C361.7,46.2 362.97,49.37 364.2,51.6 C365.43,53.83 366.75,56.1 368.2,57.6 C369.65,59.1 371.1,59.93 372.9,60.6 C374.7,61.27 376.42,61.43 379,61.6 C381.58,61.77 384.82,61.63 388.4,61.6 C391.98,61.57 396.77,61.5 400.5,61.4 C404.23,61.3 409.08,61.07 410.8,61" fill="none" stroke="#e0463e" stroke-width="1.15" stroke-linejoin="round" stroke-linecap="round" />
<line x1="349" y1="100.3" x2="349" y2="105.7" stroke="#5a3a9a" stroke-width="1" />
<line x1="352.5" y1="63.7" x2="352.5" y2="46.24" stroke="#111" stroke-width="1.1" />
<path d="M352.5,43.9 L350.6,47.8 L354.4,47.8 Z" fill="#111"/>
<text x="363.5" y="39.8" font-size="6.8" text-anchor="start" fill="#b3224f" stroke="#b3224f" stroke-width="0.08" textLength="15.1" lengthAdjust="spacingAndGlyphs">TMX1</text>
<text x="379.1" y="37.49" font-size="5.3" text-anchor="start" fill="#b3224f" stroke="#b3224f" stroke-width="0.12" textLength="4.6" lengthAdjust="spacingAndGlyphs">-/-</text>
<text x="385.6" y="39.8" font-size="6.8" text-anchor="start" fill="#b3224f" stroke="#b3224f" stroke-width="0.13" textLength="3.4" lengthAdjust="spacingAndGlyphs">+</text>
<text x="391.8" y="39.8" font-size="6.8" text-anchor="start" fill="#b3224f" stroke="#b3224f" stroke-width="0.13" textLength="18.3" lengthAdjust="spacingAndGlyphs">rTMX1</text>
<text x="381.4" y="60.7" font-size="6.6" text-anchor="start" fill="#2a2a2a" stroke="#2a2a2a" stroke-width="0.08" textLength="16.7" lengthAdjust="spacingAndGlyphs">TMX1</text>
<text x="398.6" y="58.46" font-size="5.15" text-anchor="start" fill="#777" stroke="#777" stroke-width="0.12" textLength="6.5" lengthAdjust="spacingAndGlyphs">+/+</text>
<text x="383.3" y="87.2" font-size="6.6" text-anchor="start" fill="#2a2a2a" stroke="#2a2a2a" stroke-width="0.08" textLength="16.8" lengthAdjust="spacingAndGlyphs">TMX1</text>
<text x="400.6" y="84.96" font-size="5.15" text-anchor="start" fill="#777" stroke="#777" stroke-width="0.12" textLength="4.4" lengthAdjust="spacingAndGlyphs">-/-</text>
<text x="348.7" y="126.6" font-size="9" text-anchor="middle" fill="#1c1c1c" stroke="#1c1c1c" stroke-width="0.13" textLength="3.9" lengthAdjust="spacingAndGlyphs">0</text>
<text x="361.1" y="126.6" font-size="9" text-anchor="middle" fill="#1c1c1c" stroke="#1c1c1c" stroke-width="0.13" textLength="3.9" lengthAdjust="spacingAndGlyphs">1</text>
<text x="373.3" y="126.6" font-size="9" text-anchor="middle" fill="#1c1c1c" stroke="#1c1c1c" stroke-width="0.13" textLength="3.9" lengthAdjust="spacingAndGlyphs">2</text>
<text x="385.7" y="126.6" font-size="9" text-anchor="middle" fill="#1c1c1c" stroke="#1c1c1c" stroke-width="0.13" textLength="3.9" lengthAdjust="spacingAndGlyphs">3</text>
<text x="397.8" y="126.6" font-size="9" text-anchor="middle" fill="#1c1c1c" stroke="#1c1c1c" stroke-width="0.13" textLength="3.9" lengthAdjust="spacingAndGlyphs">4</text>
<text x="410.2" y="126.6" font-size="9" text-anchor="middle" fill="#1c1c1c" stroke="#1c1c1c" stroke-width="0.13" textLength="3.9" lengthAdjust="spacingAndGlyphs">5</text>
<text x="379.5" y="139.5" font-size="9.5" text-anchor="middle" fill="#1c1c1c" stroke="#1c1c1c" stroke-width="0.1" textLength="36.5" lengthAdjust="spacingAndGlyphs">Time (min)</text>
<text x="340.6" y="74" font-size="9.5" text-anchor="middle" fill="#1c1c1c" stroke="#1c1c1c" stroke-width="0.1" textLength="49.5" lengthAdjust="spacingAndGlyphs" transform="rotate(-90 340.6 74)">% aggregation</text>
<text x="424.5" y="74.5" font-size="9.5" text-anchor="middle" fill="#1c1c1c" stroke="#1c1c1c" stroke-width="0.1" textLength="48" lengthAdjust="spacingAndGlyphs" transform="rotate(-90 424.5 74.5)">% aggregation</text>
<line x1="449.6" y1="34.5" x2="449.6" y2="116.05" stroke="#1a1a1a" stroke-width="1.15" />
<line x1="449.05" y1="115.5" x2="512.5" y2="115.5" stroke="#1a1a1a" stroke-width="1.15" />
<line x1="446.3" y1="37.6" x2="449.6" y2="37.6" stroke="#1a1a1a" stroke-width="0.9" />
<text x="443.5" y="40.37" font-size="7.7" text-anchor="end" fill="#1c1c1c" stroke="#1c1c1c" stroke-width="0.13" textLength="13.05" lengthAdjust="spacingAndGlyphs">200</text>
<line x1="446.3" y1="57" x2="449.6" y2="57" stroke="#1a1a1a" stroke-width="0.9" />
<text x="443.5" y="59.77" font-size="7.7" text-anchor="end" fill="#1c1c1c" stroke="#1c1c1c" stroke-width="0.13" textLength="13.05" lengthAdjust="spacingAndGlyphs">150</text>
<line x1="446.3" y1="76.4" x2="449.6" y2="76.4" stroke="#1a1a1a" stroke-width="0.9" />
<text x="443.5" y="79.17" font-size="7.7" text-anchor="end" fill="#1c1c1c" stroke="#1c1c1c" stroke-width="0.13" textLength="13.05" lengthAdjust="spacingAndGlyphs">100</text>
<line x1="446.3" y1="95.8" x2="449.6" y2="95.8" stroke="#1a1a1a" stroke-width="0.9" />
<text x="443.5" y="98.57" font-size="7.7" text-anchor="end" fill="#1c1c1c" stroke="#1c1c1c" stroke-width="0.13" textLength="8.6" lengthAdjust="spacingAndGlyphs">50</text>
<line x1="446.3" y1="115.2" x2="449.6" y2="115.2" stroke="#1a1a1a" stroke-width="0.9" />
<text x="443.5" y="117.97" font-size="7.7" text-anchor="end" fill="#1c1c1c" stroke="#1c1c1c" stroke-width="0.13" textLength="4.15" lengthAdjust="spacingAndGlyphs">0</text>
<rect x="453.75" y="76.3" width="10.85" height="39.2" fill="#a2072d" />
<rect x="475.5" y="48" width="10.8" height="67.5" fill="#a2072d" />
<line x1="480.9" y1="48" x2="480.9" y2="43.8" stroke="#111" stroke-width="0.9" />
<line x1="477.9" y1="43.8" x2="483.9" y2="43.8" stroke="#111" stroke-width="0.9" />
<rect x="497" y="78" width="10.8" height="37.5" fill="#a2072d" />
<line x1="502.4" y1="78" x2="502.4" y2="75.2" stroke="#111" stroke-width="0.9" />
<line x1="499.4" y1="75.2" x2="505.4" y2="75.2" stroke="#111" stroke-width="0.9" />
<path d="M457,41.5 L457,39.6 Q457,38 458.6,38 L478.4,38 Q480,38 480,39.6 L480,41.5" fill="none" stroke="#1a1a1a" stroke-width="1"/>
<path d="M482.5,41.5 L482.5,39.6 Q482.5,38 484.1,38 L503.9,38 Q505.5,38 505.5,39.6 L505.5,41.5" fill="none" stroke="#1a1a1a" stroke-width="1"/>
<circle cx="466.95" cy="35.1" r="0.75" fill="#1e1e1e"/>
<line x1="466.95" y1="33.95" x2="466.95" y2="36.25" stroke="#1e1e1e" stroke-width="0.55"/>
<line x1="465.95" y1="34.52" x2="467.95" y2="35.68" stroke="#1e1e1e" stroke-width="0.55"/>
<line x1="467.95" y1="34.52" x2="465.95" y2="35.68" stroke="#1e1e1e" stroke-width="0.55"/>
<circle cx="470.45" cy="35.1" r="0.75" fill="#1e1e1e"/>
<line x1="470.45" y1="33.95" x2="470.45" y2="36.25" stroke="#1e1e1e" stroke-width="0.55"/>
<line x1="469.45" y1="34.52" x2="471.45" y2="35.68" stroke="#1e1e1e" stroke-width="0.55"/>
<line x1="471.45" y1="34.52" x2="469.45" y2="35.68" stroke="#1e1e1e" stroke-width="0.55"/>
<circle cx="491.75" cy="35.1" r="0.75" fill="#1e1e1e"/>
<line x1="491.75" y1="33.95" x2="491.75" y2="36.25" stroke="#1e1e1e" stroke-width="0.55"/>
<line x1="490.75" y1="34.52" x2="492.75" y2="35.68" stroke="#1e1e1e" stroke-width="0.55"/>
<line x1="492.75" y1="34.52" x2="490.75" y2="35.68" stroke="#1e1e1e" stroke-width="0.55"/>
<circle cx="495.25" cy="35.1" r="0.75" fill="#1e1e1e"/>
<line x1="495.25" y1="33.95" x2="495.25" y2="36.25" stroke="#1e1e1e" stroke-width="0.55"/>
<line x1="494.25" y1="34.52" x2="496.25" y2="35.68" stroke="#1e1e1e" stroke-width="0.55"/>
<line x1="496.25" y1="34.52" x2="494.25" y2="35.68" stroke="#1e1e1e" stroke-width="0.55"/>
<line x1="459.2" y1="115.5" x2="459.2" y2="118.5" stroke="#111" stroke-width="0.9" />
<line x1="480.9" y1="115.5" x2="480.9" y2="118.5" stroke="#111" stroke-width="0.9" />
<line x1="502.4" y1="115.5" x2="502.4" y2="118.5" stroke="#111" stroke-width="0.9" />
<text x="431" y="127.6" font-size="8.3" text-anchor="start" fill="#1c1c1c" stroke="#1c1c1c" stroke-width="0.13" textLength="23.4" lengthAdjust="spacingAndGlyphs">rTMX1</text>
<text x="459.2" y="127.3" font-size="8.3" text-anchor="middle" fill="#1c1c1c" stroke="#1c1c1c" stroke-width="0.13">–</text>
<text x="480.9" y="127.3" font-size="8.3" text-anchor="middle" fill="#1c1c1c" stroke="#1c1c1c" stroke-width="0.13">–</text>
<text x="502.4" y="127.5" font-size="8.3" text-anchor="middle" fill="#1c1c1c" stroke="#1c1c1c" stroke-width="0.13">+</text>
<line x1="477.5" y1="130.2" x2="508.8" y2="130.2" stroke="#222" stroke-width="0.9" />
<text x="448.3" y="140.3" font-size="8.3" text-anchor="start" fill="#1c1c1c" stroke="#1c1c1c" stroke-width="0.13" textLength="21.1" lengthAdjust="spacingAndGlyphs">TMX1</text>
<text x="469.9" y="137.48" font-size="6.47" text-anchor="start" fill="#1c1c1c" stroke="#1c1c1c" stroke-width="0.12" textLength="9" lengthAdjust="spacingAndGlyphs">+/+</text>
<text x="483.3" y="140.3" font-size="8.3" text-anchor="start" fill="#1c1c1c" stroke="#1c1c1c" stroke-width="0.13" textLength="20.5" lengthAdjust="spacingAndGlyphs">TMX1</text>
<text x="504.3" y="137.48" font-size="6.47" text-anchor="start" fill="#1c1c1c" stroke="#1c1c1c" stroke-width="0.12" textLength="6" lengthAdjust="spacingAndGlyphs">-/-</text>
<text x="6.7" y="169" font-size="11.8" text-anchor="start" fill="#000" stroke="#000" stroke-width="0.4" textLength="8.4" lengthAdjust="spacingAndGlyphs" font-weight="bold">D</text>
<text x="89.1" y="170.3" font-size="8.3" text-anchor="middle" fill="#1c1c1c" stroke="#1c1c1c" stroke-width="0.13" textLength="59.3" lengthAdjust="spacingAndGlyphs">αIIbβ3 activation</text>
<text x="88.9" y="179.3" font-size="8.3" text-anchor="middle" fill="#1c1c1c" stroke="#1c1c1c" stroke-width="0.13" textLength="74.5" lengthAdjust="spacingAndGlyphs">Convulxin (40 ng/ml)</text>
<rect x="40.9" y="185" width="97.8" height="88.3" fill="#fff" />
<line x1="37.5" y1="185.3" x2="40.9" y2="185.3" stroke="#111" stroke-width="0.9" />
<text x="34.6" y="188.3" font-size="9" text-anchor="end" fill="#1c1c1c" stroke="#1c1c1c" stroke-width="0.13" textLength="12.3" lengthAdjust="spacingAndGlyphs">300</text>
<line x1="39.1" y1="188.76" x2="40.9" y2="188.76" stroke="#111" stroke-width="0.85" />
<line x1="39.1" y1="192.22" x2="40.9" y2="192.22" stroke="#111" stroke-width="0.85" />
<line x1="39.1" y1="195.68" x2="40.9" y2="195.68" stroke="#111" stroke-width="0.85" />
<line x1="39.1" y1="199.14" x2="40.9" y2="199.14" stroke="#111" stroke-width="0.85" />
<line x1="37.5" y1="202.6" x2="40.9" y2="202.6" stroke="#111" stroke-width="0.9" />
<text x="34.6" y="205.6" font-size="9" text-anchor="end" fill="#1c1c1c" stroke="#1c1c1c" stroke-width="0.13" textLength="12.3" lengthAdjust="spacingAndGlyphs">240</text>
<line x1="39.1" y1="206.12" x2="40.9" y2="206.12" stroke="#111" stroke-width="0.85" />
<line x1="39.1" y1="209.64" x2="40.9" y2="209.64" stroke="#111" stroke-width="0.85" />
<line x1="39.1" y1="213.16" x2="40.9" y2="213.16" stroke="#111" stroke-width="0.85" />
<line x1="39.1" y1="216.68" x2="40.9" y2="216.68" stroke="#111" stroke-width="0.85" />
<line x1="37.5" y1="220.2" x2="40.9" y2="220.2" stroke="#111" stroke-width="0.9" />
<text x="34.6" y="223.2" font-size="9" text-anchor="end" fill="#1c1c1c" stroke="#1c1c1c" stroke-width="0.13" textLength="12.3" lengthAdjust="spacingAndGlyphs">180</text>
<line x1="39.1" y1="223.76" x2="40.9" y2="223.76" stroke="#111" stroke-width="0.85" />
<line x1="39.1" y1="227.32" x2="40.9" y2="227.32" stroke="#111" stroke-width="0.85" />
<line x1="39.1" y1="230.88" x2="40.9" y2="230.88" stroke="#111" stroke-width="0.85" />
<line x1="39.1" y1="234.44" x2="40.9" y2="234.44" stroke="#111" stroke-width="0.85" />
<line x1="37.5" y1="238" x2="40.9" y2="238" stroke="#111" stroke-width="0.9" />
<text x="34.6" y="241" font-size="9" text-anchor="end" fill="#1c1c1c" stroke="#1c1c1c" stroke-width="0.13" textLength="12.3" lengthAdjust="spacingAndGlyphs">120</text>
<line x1="39.1" y1="241.54" x2="40.9" y2="241.54" stroke="#111" stroke-width="0.85" />
<line x1="39.1" y1="245.08" x2="40.9" y2="245.08" stroke="#111" stroke-width="0.85" />
<line x1="39.1" y1="248.62" x2="40.9" y2="248.62" stroke="#111" stroke-width="0.85" />
<line x1="39.1" y1="252.16" x2="40.9" y2="252.16" stroke="#111" stroke-width="0.85" />
<line x1="37.5" y1="255.7" x2="40.9" y2="255.7" stroke="#111" stroke-width="0.9" />
<text x="34.6" y="258.7" font-size="9" text-anchor="end" fill="#1c1c1c" stroke="#1c1c1c" stroke-width="0.13" textLength="8.1" lengthAdjust="spacingAndGlyphs">60</text>
<line x1="39.1" y1="259.2" x2="40.9" y2="259.2" stroke="#111" stroke-width="0.85" />
<line x1="39.1" y1="262.7" x2="40.9" y2="262.7" stroke="#111" stroke-width="0.85" />
<line x1="39.1" y1="266.2" x2="40.9" y2="266.2" stroke="#111" stroke-width="0.85" />
<line x1="39.1" y1="269.7" x2="40.9" y2="269.7" stroke="#111" stroke-width="0.85" />
<line x1="37.5" y1="273.2" x2="40.9" y2="273.2" stroke="#111" stroke-width="0.9" />
<text x="34.6" y="276.2" font-size="9" text-anchor="end" fill="#1c1c1c" stroke="#1c1c1c" stroke-width="0.13" textLength="3.9" lengthAdjust="spacingAndGlyphs">0</text>
<line x1="41.2" y1="273.3" x2="41.2" y2="277.1" stroke="#111" stroke-width="1" />
<line x1="48.47" y1="273.3" x2="48.47" y2="275.8" stroke="#111" stroke-width="0.8" />
<line x1="52.72" y1="273.3" x2="52.72" y2="275.8" stroke="#111" stroke-width="0.8" />
<line x1="55.74" y1="273.3" x2="55.74" y2="275.8" stroke="#111" stroke-width="0.8" />
<line x1="58.08" y1="273.3" x2="58.08" y2="275.8" stroke="#111" stroke-width="0.8" />
<line x1="59.99" y1="273.3" x2="59.99" y2="275.8" stroke="#111" stroke-width="0.8" />
<line x1="61.61" y1="273.3" x2="61.61" y2="275.8" stroke="#111" stroke-width="0.8" />
<line x1="63.01" y1="273.3" x2="63.01" y2="275.8" stroke="#111" stroke-width="0.8" />
<line x1="64.24" y1="273.3" x2="64.24" y2="275.8" stroke="#111" stroke-width="0.8" />
<line x1="65.35" y1="273.3" x2="65.35" y2="277.1" stroke="#111" stroke-width="1" />
<line x1="72.62" y1="273.3" x2="72.62" y2="275.8" stroke="#111" stroke-width="0.8" />
<line x1="76.87" y1="273.3" x2="76.87" y2="275.8" stroke="#111" stroke-width="0.8" />
<line x1="79.89" y1="273.3" x2="79.89" y2="275.8" stroke="#111" stroke-width="0.8" />
<line x1="82.23" y1="273.3" x2="82.23" y2="275.8" stroke="#111" stroke-width="0.8" />
<line x1="84.14" y1="273.3" x2="84.14" y2="275.8" stroke="#111" stroke-width="0.8" />
<line x1="85.76" y1="273.3" x2="85.76" y2="275.8" stroke="#111" stroke-width="0.8" />
<line x1="87.16" y1="273.3" x2="87.16" y2="275.8" stroke="#111" stroke-width="0.8" />
<line x1="88.39" y1="273.3" x2="88.39" y2="275.8" stroke="#111" stroke-width="0.8" />
<line x1="89.5" y1="273.3" x2="89.5" y2="277.1" stroke="#111" stroke-width="1" />
<line x1="96.77" y1="273.3" x2="96.77" y2="275.8" stroke="#111" stroke-width="0.8" />
<line x1="101.02" y1="273.3" x2="101.02" y2="275.8" stroke="#111" stroke-width="0.8" />
<line x1="104.04" y1="273.3" x2="104.04" y2="275.8" stroke="#111" stroke-width="0.8" />
<line x1="106.38" y1="273.3" x2="106.38" y2="275.8" stroke="#111" stroke-width="0.8" />
<line x1="108.29" y1="273.3" x2="108.29" y2="275.8" stroke="#111" stroke-width="0.8" />
<line x1="109.91" y1="273.3" x2="109.91" y2="275.8" stroke="#111" stroke-width="0.8" />
<line x1="111.31" y1="273.3" x2="111.31" y2="275.8" stroke="#111" stroke-width="0.8" />
<line x1="112.54" y1="273.3" x2="112.54" y2="275.8" stroke="#111" stroke-width="0.8" />
<line x1="113.65" y1="273.3" x2="113.65" y2="277.1" stroke="#111" stroke-width="1" />
<line x1="120.92" y1="273.3" x2="120.92" y2="275.8" stroke="#111" stroke-width="0.8" />
<line x1="125.17" y1="273.3" x2="125.17" y2="275.8" stroke="#111" stroke-width="0.8" />
<line x1="128.19" y1="273.3" x2="128.19" y2="275.8" stroke="#111" stroke-width="0.8" />
<line x1="130.53" y1="273.3" x2="130.53" y2="275.8" stroke="#111" stroke-width="0.8" />
<line x1="132.44" y1="273.3" x2="132.44" y2="275.8" stroke="#111" stroke-width="0.8" />
<line x1="134.06" y1="273.3" x2="134.06" y2="275.8" stroke="#111" stroke-width="0.8" />
<line x1="135.46" y1="273.3" x2="135.46" y2="275.8" stroke="#111" stroke-width="0.8" />
<line x1="136.69" y1="273.3" x2="136.69" y2="275.8" stroke="#111" stroke-width="0.8" />
<line x1="137.8" y1="273.3" x2="137.8" y2="277.1" stroke="#111" stroke-width="1" />
<text x="39.9" y="287" font-size="9" text-anchor="middle" fill="#1c1c1c" stroke="#1c1c1c" stroke-width="0.13" textLength="7.6" lengthAdjust="spacingAndGlyphs">10</text>
<text x="44" y="283.4" font-size="6.8" text-anchor="start" fill="#1c1c1c" stroke="#1c1c1c" stroke-width="0.13" textLength="3.1" lengthAdjust="spacingAndGlyphs">0</text>
<text x="64.05" y="287" font-size="9" text-anchor="middle" fill="#1c1c1c" stroke="#1c1c1c" stroke-width="0.13" textLength="7.6" lengthAdjust="spacingAndGlyphs">10</text>
<text x="68.15" y="283.4" font-size="6.8" text-anchor="start" fill="#1c1c1c" stroke="#1c1c1c" stroke-width="0.13" textLength="3.1" lengthAdjust="spacingAndGlyphs">1</text>
<text x="88.2" y="287" font-size="9" text-anchor="middle" fill="#1c1c1c" stroke="#1c1c1c" stroke-width="0.13" textLength="7.6" lengthAdjust="spacingAndGlyphs">10</text>
<text x="92.3" y="283.4" font-size="6.8" text-anchor="start" fill="#1c1c1c" stroke="#1c1c1c" stroke-width="0.13" textLength="3.1" lengthAdjust="spacingAndGlyphs">2</text>
<text x="112.35" y="287" font-size="9" text-anchor="middle" fill="#1c1c1c" stroke="#1c1c1c" stroke-width="0.13" textLength="7.6" lengthAdjust="spacingAndGlyphs">10</text>
<text x="116.45" y="283.4" font-size="6.8" text-anchor="start" fill="#1c1c1c" stroke="#1c1c1c" stroke-width="0.13" textLength="3.1" lengthAdjust="spacingAndGlyphs">3</text>
<text x="136.5" y="287" font-size="9" text-anchor="middle" fill="#1c1c1c" stroke="#1c1c1c" stroke-width="0.13" textLength="7.6" lengthAdjust="spacingAndGlyphs">10</text>
<text x="140.6" y="283.4" font-size="6.8" text-anchor="start" fill="#1c1c1c" stroke="#1c1c1c" stroke-width="0.13" textLength="3.1" lengthAdjust="spacingAndGlyphs">4</text>
<text x="89.3" y="299.6" font-size="9.5" text-anchor="middle" fill="#1c1c1c" stroke="#1c1c1c" stroke-width="0.1" textLength="8.5" lengthAdjust="spacingAndGlyphs">PE</text>
<text x="15.3" y="229.5" font-size="9.5" text-anchor="middle" fill="#1c1c1c" stroke="#1c1c1c" stroke-width="0.1" textLength="23" lengthAdjust="spacingAndGlyphs" transform="rotate(-90 15.3 229.5)">Counts</text>
<polyline points="41.4,268.05 42.04,268.06 42.94,269.26 43.99,268.87 45.08,267.11 46.1,265.91 46.78,267.21 47.48,264.77 48.18,266.07 48.88,263.25 49.55,262.19 50.2,262.31 50.8,260.92 51.76,263.02 52.63,262.98 53.44,260.39 54.2,262.06 54.56,261.17 54.9,258.37 55.23,260.36 55.54,259.4 55.85,256.2 56.16,256.75 56.48,256.71 56.8,255.41 57.13,252.36 57.47,254.16 57.81,253.03 58.14,249.55 58.48,251.16 58.82,247.98 59.16,249.11 59.5,245.78 59.89,247.81 60.27,244.4 60.66,246.6 61.04,245.71 61.43,241.77 61.81,240.49 62.2,240.05 62.5,242.77 62.81,241.22 63.13,240.65 63.44,236.6 63.75,235.48 64.05,234.74 64.35,233.83 64.63,236.37 64.9,231.69 65.42,234.46 65.86,233.5 66.32,229.56 66.9,232.31 67.67,227.9 68.56,227.76 69.47,226.92 70.3,230.24 70.9,228.81 71.46,229.11 72,233.01 72.52,230.6 73,232.01 74.04,232.68 75,235.67 75.64,232.69 76.28,236.85 77,238.27 77.24,236.45 77.51,239.29 77.78,237.55 78.06,241.66 78.35,238.23 78.64,243.24 78.92,241.12 79.19,244.05 79.46,242.61 79.7,246.28 79.95,243.65 80.19,247.59 80.41,246.23 80.63,249.88 80.84,249.97 81.05,250.94 81.26,249.27 81.48,252.68 81.7,251.89 81.89,255.22 82.08,255.84 82.27,254.84 82.46,255.12 82.65,255.65 82.85,258.93 83.04,258.13 83.23,260.58 83.42,261.88 83.61,262.18 83.8,263.08 84.08,263.86 84.36,265.6 84.63,264.7 84.9,267.21 85.18,266.27 85.48,267.1 85.8,267.44 86.27,270.26 86.74,270.92 87.26,270.51 87.83,271.15 88.5,271.67 89.08,272.08 89.57,273.19 90.21,273.3 91.27,273.15 93,273.3 93.55,273.33 94.14,273.36 94.76,273.38 95.42,273.4 96.1,273.4 96.82,273.4 97.57,273.4 98.35,273.4 99.16,273.4 100,273.4 100.87,273.4 101.77,273.4 102.7,273.4 103.66,273.4 104.65,273.4 105.66,273.4 106.71,273.4 107.78,273.4 108.88,273.4 110,273.4 110.71,273.4 111.47,273.4 112.27,273.4 113.1,273.4 113.97,273.4 114.87,273.4 115.79,273.4 116.74,273.4 117.71,273.4 118.7,273.4 119.7,273.4 120.72,273.4 121.74,273.4 122.76,273.4 123.78,273.4 124.8,273.4 125.82,273.4 126.82,273.4 127.82,273.4 128.79,273.4 129.75,273.4 130.69,273.4 131.59,273.4 132.47,273.4 133.32,273.4 134.13,273.4 134.9,273.4 135.62,273.4 136.31,273.4 136.94,273.4 137.52,273.4 138.04,273.4 138.5,273.4" fill="none" stroke="#222" stroke-width="0.7" stroke-linejoin="round" stroke-linecap="round" />
<polyline points="41.4,270.16 42.03,270.7 42.91,270.13 43.94,268.96 45.04,268.41 46.1,269.38 46.96,269.16 47.85,269.1 48.76,268.01 49.68,269.06 50.6,269.19 51.5,269.04 52.39,267.65 53.27,267.46 54.15,267.04 55.03,266.54 55.91,267.43 56.8,265.52 57.71,266.68 58.64,266.42 59.57,265.94 60.49,265.54 61.37,265.47 62.2,264.96 62.87,263.22 63.51,263.85 64.12,263.36 64.71,262.86 65.27,261.82 65.8,261.12 66.3,258.64 66.63,258.01 66.93,259.17 67.22,258.17 67.49,257.45 67.74,255.36 67.99,256.35 68.24,253.45 68.49,254.47 68.74,251.36 69,251.03 69.17,250.16 69.33,249.1 69.49,248.26 69.65,247.37 69.82,246.56 69.98,246.05 70.14,245.5 70.3,245.76 70.46,243.71 70.62,242.86 70.78,241.65 70.95,240.34 71.11,239.51 71.27,238.95 71.43,237.69 71.6,237.44 71.77,236.73 71.93,235.61 72.1,236.14 72.27,235.82 72.44,232.44 72.61,234.46 72.77,231.16 72.94,230.7 73.11,231.94 73.28,228.62 73.45,227.7 73.62,229.07 73.79,227.86 73.96,227.15 74.13,226.74 74.3,223.27 74.47,224.38 74.64,222.07 74.82,223.28 74.99,219.29 75.17,218.67 75.34,218.26 75.52,216.89 75.69,218.26 75.87,217.4 76.04,214.74 76.21,215.85 76.37,212.65 76.54,212.21 76.7,211.77 76.85,211 77,209.9 77.44,210.81 77.85,209.25 78.23,205.81 78.6,208.11 79,205.39 79.3,205.22 79.6,205.63 79.9,209.26 80.2,207.55 80.5,211.53 80.8,212.23 81.1,213.28 81.23,214.02 81.35,212.19 81.48,213.41 81.61,216.52 81.73,215.5 81.86,215.93 81.98,216.99 82.11,219.61 82.23,220.75 82.35,221.38 82.48,222.58 82.6,221.56 82.73,222.67 82.85,225.57 82.98,223.79 83.1,224.74 83.23,228.32 83.37,228.68 83.5,229.41 83.63,230.43 83.77,231.78 83.9,232.88 84.03,233.21 84.17,232.1 84.3,235.13 84.43,233.81 84.57,235.22 84.7,235.22 84.83,236.31 84.97,237.23 85.1,238.77 85.22,241.11 85.35,242 85.47,242.56 85.6,243.41 85.72,242.59 85.85,245.2 85.97,244.58 86.1,245.51 86.22,248.3 86.35,247.2 86.47,247.78 86.6,250.87 86.72,249.8 86.85,250.54 86.97,252.75 87.1,253.85 87.27,254.58 87.43,255.82 87.6,254.95 87.76,256.09 87.93,257.15 88.09,259.72 88.26,259.05 88.43,261.23 88.59,260.97 88.76,261.35 88.93,263.73 89.1,263.07 89.39,264.3 89.68,265.24 89.96,266.44 90.25,268.05 90.55,267.89 90.87,268.4 91.2,269.34 91.79,271.05 92.39,270.94 93.07,272.38 93.9,272.68 94.6,272.85 95.31,272.66 96.14,273.08 97.2,273.2 98.6,273.3 99.21,273.33 99.81,273.36 100.42,273.38 101.05,273.39 101.72,273.4 102.43,273.4 103.21,273.4 104.07,273.4 105.01,273.4 106.06,273.4 107.24,273.4 108.54,273.4 110,273.4 110.63,273.4 111.32,273.4 112.06,273.4 112.84,273.4 113.66,273.4 114.53,273.4 115.42,273.4 116.35,273.4 117.31,273.4 118.29,273.4 119.29,273.4 120.3,273.4 121.33,273.4 122.37,273.4 123.4,273.4 124.44,273.4 125.48,273.4 126.51,273.4 127.53,273.4 128.53,273.4 129.52,273.4 130.48,273.4 131.41,273.4 132.32,273.4 133.19,273.4 134.03,273.4 134.82,273.4 135.57,273.4 136.27,273.4 136.92,273.4 137.51,273.4 138.03,273.4 138.5,273.4" fill="none" stroke="#e2502f" stroke-width="0.85" stroke-linejoin="round" stroke-linecap="round" />
<polyline points="41.4,267.67 42.03,267.66 42.91,268.84 43.94,267.04 45.04,268.02 46.1,266.48 46.85,267.35 47.63,266.76 48.44,264.92 49.25,263.8 50.04,265.3 50.8,263.06 51.5,262.29 52.14,261.22 52.74,262.7 53.31,262.34 53.86,261.44 54.4,261.31 54.94,257.81 55.5,257.74 55.9,258.38 56.31,258.23 56.72,257.11 57.13,256.47 57.54,255.66 57.94,254.93 58.34,251.19 58.74,250.48 59.12,252.74 59.5,248.75 59.87,248 60.23,249.52 60.59,246.45 60.94,247.6 61.28,244.8 61.62,244.44 61.95,246 62.27,242.8 62.59,241.61 62.9,243.53 63.32,242.56 63.72,239.18 64.11,238.64 64.48,236.73 64.85,239.21 65.22,238.34 65.6,234.56 66.13,236.99 66.65,232.84 67.18,235.42 67.72,235.08 68.3,231 69.11,233.54 69.99,229.51 70.85,233.56 71.6,232.33 72.11,227.88 72.56,229.69 72.98,226.85 73.35,228.52 73.7,228.39 74.05,229.12 74.31,226.65 74.6,227.38 75,232.06 75.62,231.57 76.39,229.88 77.13,226.4 77.7,229.45 77.99,229.01 78.09,229.59 78.18,227.56 78.4,230.03 78.57,230.24 78.76,233.92 78.97,231.82 79.2,233.55 79.44,237.52 79.69,234.97 79.93,236.48 80.17,236.4 80.4,240.5 80.57,239.43 80.73,239.91 80.9,240.06 81.07,244.55 81.23,241.98 81.4,246.06 81.57,246.6 81.73,247.74 81.9,248.44 82.07,249.06 82.23,250.11 82.4,249.02 82.57,252.36 82.73,251.39 82.9,254.49 83.06,255.08 83.23,253.37 83.39,256.47 83.56,256.12 83.73,256.2 83.89,259.59 84.06,258.41 84.23,259.55 84.4,261.7 84.63,261.09 84.85,263.52 85.07,263.28 85.3,266.11 85.53,266.83 85.76,266.01 86,266.98 86.24,267.68 86.5,269.72 87.08,269.19 87.69,270.27 88.35,271.72 89.1,272.34 89.68,272.72 90.15,273.31 91.07,273.1 93,273.3 93.54,273.33 94.12,273.36 94.73,273.38 95.38,273.4 96.06,273.4 96.77,273.4 97.52,273.4 98.3,273.4 99.12,273.4 99.96,273.4 100.84,273.4 101.74,273.4 102.68,273.4 103.64,273.4 104.63,273.4 105.65,273.4 106.7,273.4 107.78,273.4 108.87,273.4 110,273.4 110.71,273.4 111.47,273.4 112.27,273.4 113.1,273.4 113.97,273.4 114.87,273.4 115.79,273.4 116.74,273.4 117.71,273.4 118.7,273.4 119.7,273.4 120.72,273.4 121.74,273.4 122.76,273.4 123.78,273.4 124.8,273.4 125.82,273.4 126.82,273.4 127.82,273.4 128.79,273.4 129.75,273.4 130.69,273.4 131.59,273.4 132.47,273.4 133.32,273.4 134.13,273.4 134.9,273.4 135.62,273.4 136.31,273.4 136.94,273.4 137.52,273.4 138.04,273.4 138.5,273.4" fill="none" stroke="#4fa63a" stroke-width="0.8" stroke-linejoin="round" stroke-linecap="round" />
<rect x="40.9" y="185" width="97.8" height="88.3" fill="none" stroke="#111" stroke-width="1.2"/>
<line x1="41.95" y1="185.6" x2="41.95" y2="272.7" stroke="#5cb83a" stroke-width="0.55" />
<line x1="92" y1="272.85" x2="138.1" y2="272.85" stroke="#4fa63a" stroke-width="0.5" />
<text x="44.5" y="197.2" font-size="7.3" text-anchor="start" fill="#37a052" stroke="#37a052" stroke-width="0.16" textLength="20.5" lengthAdjust="spacingAndGlyphs">TMX1</text>
<text x="65.5" y="194.72" font-size="5.69" text-anchor="start" fill="#37a052" stroke="#37a052" stroke-width="0.12" textLength="5.2" lengthAdjust="spacingAndGlyphs">-/-</text>
<text x="72.2" y="197.2" font-size="7.3" text-anchor="start" fill="#37a052" stroke="#37a052" stroke-width="0.16" textLength="3.6" lengthAdjust="spacingAndGlyphs">+</text>
<text x="77.6" y="197.2" font-size="7.3" text-anchor="start" fill="#37a052" stroke="#37a052" stroke-width="0.16" textLength="22.6" lengthAdjust="spacingAndGlyphs">rTMX1</text>
<text x="85.1" y="219.6" font-size="7.3" text-anchor="start" fill="#b3204a" stroke="#b3204a" stroke-width="0.13" textLength="19.9" lengthAdjust="spacingAndGlyphs">TMX1</text>
<text x="105.5" y="217.12" font-size="5.69" text-anchor="start" fill="#b3204a" stroke="#b3204a" stroke-width="0.12" textLength="5.2" lengthAdjust="spacingAndGlyphs">-/-</text>
<text x="41.6" y="229.3" font-size="7.3" text-anchor="start" fill="#1c1c1c" stroke="#1c1c1c" stroke-width="0.13" textLength="19.5" lengthAdjust="spacingAndGlyphs">TMX1</text>
<text x="61.6" y="226.82" font-size="5.69" text-anchor="start" fill="#1c1c1c" stroke="#1c1c1c" stroke-width="0.12" textLength="8.2" lengthAdjust="spacingAndGlyphs">+/+</text>
<text x="154" y="224.5" font-size="8.2" text-anchor="middle" fill="#1c1c1c" stroke="#1c1c1c" stroke-width="0.13" textLength="11.8" lengthAdjust="spacingAndGlyphs" transform="rotate(-90 154 224.5)">MFI</text>
<line x1="174.6" y1="173.8" x2="174.6" y2="274.85" stroke="#1a1a1a" stroke-width="1.15" />
<line x1="174.05" y1="274.3" x2="239.3" y2="274.3" stroke="#1a1a1a" stroke-width="1.15" />
<line x1="171.3" y1="175.8" x2="174.6" y2="175.8" stroke="#1a1a1a" stroke-width="0.9" />
<text x="168.2" y="178.68" font-size="8" text-anchor="end" fill="#1c1c1c" stroke="#1c1c1c" stroke-width="0.13" textLength="8.1" lengthAdjust="spacingAndGlyphs">50</text>
<line x1="171.3" y1="195.45" x2="174.6" y2="195.45" stroke="#1a1a1a" stroke-width="0.9" />
<text x="168.2" y="198.33" font-size="8" text-anchor="end" fill="#1c1c1c" stroke="#1c1c1c" stroke-width="0.13" textLength="8.1" lengthAdjust="spacingAndGlyphs">40</text>
<line x1="171.3" y1="215.2" x2="174.6" y2="215.2" stroke="#1a1a1a" stroke-width="0.9" />
<text x="168.2" y="218.08" font-size="8" text-anchor="end" fill="#1c1c1c" stroke="#1c1c1c" stroke-width="0.13" textLength="8.1" lengthAdjust="spacingAndGlyphs">30</text>
<line x1="171.3" y1="234.9" x2="174.6" y2="234.9" stroke="#1a1a1a" stroke-width="0.9" />
<text x="168.2" y="237.78" font-size="8" text-anchor="end" fill="#1c1c1c" stroke="#1c1c1c" stroke-width="0.13" textLength="8.1" lengthAdjust="spacingAndGlyphs">20</text>
<line x1="171.3" y1="254.5" x2="174.6" y2="254.5" stroke="#1a1a1a" stroke-width="0.9" />
<text x="168.2" y="257.38" font-size="8" text-anchor="end" fill="#1c1c1c" stroke="#1c1c1c" stroke-width="0.13" textLength="8.1" lengthAdjust="spacingAndGlyphs">10</text>
<line x1="171.3" y1="274.1" x2="174.6" y2="274.1" stroke="#1a1a1a" stroke-width="0.9" />
<text x="168.2" y="276.98" font-size="8" text-anchor="end" fill="#1c1c1c" stroke="#1c1c1c" stroke-width="0.13" textLength="3.9" lengthAdjust="spacingAndGlyphs">0</text>
<rect x="179.5" y="235" width="10.8" height="39.3" fill="#a2072d" />
<line x1="184.9" y1="235" x2="184.9" y2="234.4" stroke="#111" stroke-width="0.9" />
<line x1="182.1" y1="234.4" x2="187.7" y2="234.4" stroke="#111" stroke-width="0.9" />
<rect x="201.3" y="201.3" width="10.8" height="73" fill="#a2072d" />
<line x1="206.7" y1="201.3" x2="206.7" y2="199.4" stroke="#111" stroke-width="0.9" />
<line x1="203.9" y1="199.4" x2="209.5" y2="199.4" stroke="#111" stroke-width="0.9" />
<rect x="223" y="226.4" width="10.8" height="47.9" fill="#a2072d" />
<line x1="228.4" y1="226.4" x2="228.4" y2="225.7" stroke="#111" stroke-width="0.9" />
<line x1="225.6" y1="225.7" x2="231.2" y2="225.7" stroke="#111" stroke-width="0.9" />
<path d="M183.6,185.6 L183.6,184 Q183.6,182.4 185.2,182.4 L232.9,182.4 Q234.5,182.4 234.5,184 L234.5,185.6" fill="none" stroke="#1a1a1a" stroke-width="1"/>
<text x="209" y="180.4" font-size="7.6" text-anchor="middle" fill="#1c1c1c" stroke="#1c1c1c" stroke-width="0.2" textLength="9.8" lengthAdjust="spacingAndGlyphs">NS</text>
<path d="M182.1,196.8 L182.1,195.2 Q182.1,193.6 183.7,193.6 L203.9,193.6 Q205.5,193.6 205.5,195.2 L205.5,196.8" fill="none" stroke="#1a1a1a" stroke-width="1"/>
<path d="M208,196.8 L208,195.2 Q208,193.6 209.6,193.6 L230.2,193.6 Q231.8,193.6 231.8,195.2 L231.8,196.8" fill="none" stroke="#1a1a1a" stroke-width="1"/>
<circle cx="190.8" cy="190.5" r="0.75" fill="#1e1e1e"/>
<line x1="190.8" y1="189.35" x2="190.8" y2="191.65" stroke="#1e1e1e" stroke-width="0.55"/>
<line x1="189.8" y1="189.93" x2="191.8" y2="191.07" stroke="#1e1e1e" stroke-width="0.55"/>
<line x1="191.8" y1="189.93" x2="189.8" y2="191.07" stroke="#1e1e1e" stroke-width="0.55"/>
<circle cx="194" cy="190.5" r="0.75" fill="#1e1e1e"/>
<line x1="194" y1="189.35" x2="194" y2="191.65" stroke="#1e1e1e" stroke-width="0.55"/>
<line x1="193" y1="189.93" x2="195" y2="191.07" stroke="#1e1e1e" stroke-width="0.55"/>
<line x1="195" y1="189.93" x2="193" y2="191.07" stroke="#1e1e1e" stroke-width="0.55"/>
<circle cx="197.2" cy="190.5" r="0.75" fill="#1e1e1e"/>
<line x1="197.2" y1="189.35" x2="197.2" y2="191.65" stroke="#1e1e1e" stroke-width="0.55"/>
<line x1="196.2" y1="189.93" x2="198.2" y2="191.07" stroke="#1e1e1e" stroke-width="0.55"/>
<line x1="198.2" y1="189.93" x2="196.2" y2="191.07" stroke="#1e1e1e" stroke-width="0.55"/>
<circle cx="216.4" cy="190.5" r="0.75" fill="#1e1e1e"/>
<line x1="216.4" y1="189.35" x2="216.4" y2="191.65" stroke="#1e1e1e" stroke-width="0.55"/>
<line x1="215.4" y1="189.93" x2="217.4" y2="191.07" stroke="#1e1e1e" stroke-width="0.55"/>
<line x1="217.4" y1="189.93" x2="215.4" y2="191.07" stroke="#1e1e1e" stroke-width="0.55"/>
<circle cx="219.6" cy="190.5" r="0.75" fill="#1e1e1e"/>
<line x1="219.6" y1="189.35" x2="219.6" y2="191.65" stroke="#1e1e1e" stroke-width="0.55"/>
<line x1="218.6" y1="189.93" x2="220.6" y2="191.07" stroke="#1e1e1e" stroke-width="0.55"/>
<line x1="220.6" y1="189.93" x2="218.6" y2="191.07" stroke="#1e1e1e" stroke-width="0.55"/>
<circle cx="222.8" cy="190.5" r="0.75" fill="#1e1e1e"/>
<line x1="222.8" y1="189.35" x2="222.8" y2="191.65" stroke="#1e1e1e" stroke-width="0.55"/>
<line x1="221.8" y1="189.93" x2="223.8" y2="191.07" stroke="#1e1e1e" stroke-width="0.55"/>
<line x1="223.8" y1="189.93" x2="221.8" y2="191.07" stroke="#1e1e1e" stroke-width="0.55"/>
<line x1="184.9" y1="274.3" x2="184.9" y2="277.4" stroke="#111" stroke-width="0.9" />
<line x1="206.7" y1="274.3" x2="206.7" y2="277.4" stroke="#111" stroke-width="0.9" />
<line x1="228.4" y1="274.3" x2="228.4" y2="277.4" stroke="#111" stroke-width="0.9" />
<text x="155.9" y="287.4" font-size="8.3" text-anchor="start" fill="#1c1c1c" stroke="#1c1c1c" stroke-width="0.13" textLength="23.8" lengthAdjust="spacingAndGlyphs">rTMX1</text>
<text x="184.9" y="287.3" font-size="8.3" text-anchor="middle" fill="#1c1c1c" stroke="#1c1c1c" stroke-width="0.13">–</text>
<text x="206.7" y="287.3" font-size="8.3" text-anchor="middle" fill="#1c1c1c" stroke="#1c1c1c" stroke-width="0.13">–</text>
<text x="228.4" y="287.5" font-size="8.3" text-anchor="middle" fill="#1c1c1c" stroke="#1c1c1c" stroke-width="0.13">+</text>
<line x1="203" y1="291.8" x2="236.3" y2="291.8" stroke="#222" stroke-width="0.9" />
<text x="170" y="304.6" font-size="8.3" text-anchor="start" fill="#1c1c1c" stroke="#1c1c1c" stroke-width="0.13" textLength="21.4" lengthAdjust="spacingAndGlyphs">TMX1</text>
<text x="191.9" y="301.78" font-size="6.47" text-anchor="start" fill="#1c1c1c" stroke="#1c1c1c" stroke-width="0.12" textLength="8" lengthAdjust="spacingAndGlyphs">+/+</text>
<text x="206.3" y="304.6" font-size="8.3" text-anchor="start" fill="#1c1c1c" stroke="#1c1c1c" stroke-width="0.13" textLength="21.4" lengthAdjust="spacingAndGlyphs">TMX1</text>
<text x="228.2" y="301.78" font-size="6.47" text-anchor="start" fill="#1c1c1c" stroke="#1c1c1c" stroke-width="0.12" textLength="6" lengthAdjust="spacingAndGlyphs">-/-</text>
<text x="255.1" y="169" font-size="11.8" text-anchor="start" fill="#000" stroke="#000" stroke-width="0.4" textLength="6.6" lengthAdjust="spacingAndGlyphs" font-weight="bold">E</text>
<text x="334.3" y="169.9" font-size="8.3" text-anchor="middle" fill="#1c1c1c" stroke="#1c1c1c" stroke-width="0.13" textLength="35.3" lengthAdjust="spacingAndGlyphs">P-selectin</text>
<text x="334.8" y="179.2" font-size="8.3" text-anchor="middle" fill="#1c1c1c" stroke="#1c1c1c" stroke-width="0.13" textLength="74.5" lengthAdjust="spacingAndGlyphs">Convulxin (40 ng/ml)</text>
<rect x="288" y="185" width="93.4" height="88.3" fill="#fff" />
<line x1="284.6" y1="185.3" x2="288" y2="185.3" stroke="#111" stroke-width="0.9" />
<text x="282" y="188.3" font-size="9" text-anchor="end" fill="#1c1c1c" stroke="#1c1c1c" stroke-width="0.13" textLength="12.3" lengthAdjust="spacingAndGlyphs">200</text>
<line x1="286.2" y1="188.84" x2="288" y2="188.84" stroke="#111" stroke-width="0.85" />
<line x1="286.2" y1="192.38" x2="288" y2="192.38" stroke="#111" stroke-width="0.85" />
<line x1="286.2" y1="195.92" x2="288" y2="195.92" stroke="#111" stroke-width="0.85" />
<line x1="286.2" y1="199.46" x2="288" y2="199.46" stroke="#111" stroke-width="0.85" />
<line x1="284.6" y1="203" x2="288" y2="203" stroke="#111" stroke-width="0.9" />
<text x="282" y="206" font-size="9" text-anchor="end" fill="#1c1c1c" stroke="#1c1c1c" stroke-width="0.13" textLength="12.3" lengthAdjust="spacingAndGlyphs">160</text>
<line x1="286.2" y1="206.52" x2="288" y2="206.52" stroke="#111" stroke-width="0.85" />
<line x1="286.2" y1="210.04" x2="288" y2="210.04" stroke="#111" stroke-width="0.85" />
<line x1="286.2" y1="213.56" x2="288" y2="213.56" stroke="#111" stroke-width="0.85" />
<line x1="286.2" y1="217.08" x2="288" y2="217.08" stroke="#111" stroke-width="0.85" />
<line x1="284.6" y1="220.6" x2="288" y2="220.6" stroke="#111" stroke-width="0.9" />
<text x="282" y="223.6" font-size="9" text-anchor="end" fill="#1c1c1c" stroke="#1c1c1c" stroke-width="0.13" textLength="12.3" lengthAdjust="spacingAndGlyphs">120</text>
<line x1="286.2" y1="224.12" x2="288" y2="224.12" stroke="#111" stroke-width="0.85" />
<line x1="286.2" y1="227.64" x2="288" y2="227.64" stroke="#111" stroke-width="0.85" />
<line x1="286.2" y1="231.16" x2="288" y2="231.16" stroke="#111" stroke-width="0.85" />
<line x1="286.2" y1="234.68" x2="288" y2="234.68" stroke="#111" stroke-width="0.85" />
<line x1="284.6" y1="238.2" x2="288" y2="238.2" stroke="#111" stroke-width="0.9" />
<text x="282" y="241.2" font-size="9" text-anchor="end" fill="#1c1c1c" stroke="#1c1c1c" stroke-width="0.13" textLength="8.1" lengthAdjust="spacingAndGlyphs">80</text>
<line x1="286.2" y1="241.7" x2="288" y2="241.7" stroke="#111" stroke-width="0.85" />
<line x1="286.2" y1="245.2" x2="288" y2="245.2" stroke="#111" stroke-width="0.85" />
<line x1="286.2" y1="248.7" x2="288" y2="248.7" stroke="#111" stroke-width="0.85" />
<line x1="286.2" y1="252.2" x2="288" y2="252.2" stroke="#111" stroke-width="0.85" />
<line x1="284.6" y1="255.7" x2="288" y2="255.7" stroke="#111" stroke-width="0.9" />
<text x="282" y="258.7" font-size="9" text-anchor="end" fill="#1c1c1c" stroke="#1c1c1c" stroke-width="0.13" textLength="8.1" lengthAdjust="spacingAndGlyphs">40</text>
<line x1="286.2" y1="259.2" x2="288" y2="259.2" stroke="#111" stroke-width="0.85" />
<line x1="286.2" y1="262.7" x2="288" y2="262.7" stroke="#111" stroke-width="0.85" />
<line x1="286.2" y1="266.2" x2="288" y2="266.2" stroke="#111" stroke-width="0.85" />
<line x1="286.2" y1="269.7" x2="288" y2="269.7" stroke="#111" stroke-width="0.85" />
<line x1="284.6" y1="273.2" x2="288" y2="273.2" stroke="#111" stroke-width="0.9" />
<text x="282" y="276.2" font-size="9" text-anchor="end" fill="#1c1c1c" stroke="#1c1c1c" stroke-width="0.13" textLength="3.9" lengthAdjust="spacingAndGlyphs">0</text>
<line x1="288.3" y1="273.3" x2="288.3" y2="277.1" stroke="#111" stroke-width="1" />
<line x1="295.28" y1="273.3" x2="295.28" y2="275.8" stroke="#111" stroke-width="0.8" />
<line x1="299.37" y1="273.3" x2="299.37" y2="275.8" stroke="#111" stroke-width="0.8" />
<line x1="302.27" y1="273.3" x2="302.27" y2="275.8" stroke="#111" stroke-width="0.8" />
<line x1="304.52" y1="273.3" x2="304.52" y2="275.8" stroke="#111" stroke-width="0.8" />
<line x1="306.35" y1="273.3" x2="306.35" y2="275.8" stroke="#111" stroke-width="0.8" />
<line x1="307.91" y1="273.3" x2="307.91" y2="275.8" stroke="#111" stroke-width="0.8" />
<line x1="309.25" y1="273.3" x2="309.25" y2="275.8" stroke="#111" stroke-width="0.8" />
<line x1="310.44" y1="273.3" x2="310.44" y2="275.8" stroke="#111" stroke-width="0.8" />
<line x1="311.5" y1="273.3" x2="311.5" y2="277.1" stroke="#111" stroke-width="1" />
<line x1="318.48" y1="273.3" x2="318.48" y2="275.8" stroke="#111" stroke-width="0.8" />
<line x1="322.57" y1="273.3" x2="322.57" y2="275.8" stroke="#111" stroke-width="0.8" />
<line x1="325.47" y1="273.3" x2="325.47" y2="275.8" stroke="#111" stroke-width="0.8" />
<line x1="327.72" y1="273.3" x2="327.72" y2="275.8" stroke="#111" stroke-width="0.8" />
<line x1="329.55" y1="273.3" x2="329.55" y2="275.8" stroke="#111" stroke-width="0.8" />
<line x1="331.11" y1="273.3" x2="331.11" y2="275.8" stroke="#111" stroke-width="0.8" />
<line x1="332.45" y1="273.3" x2="332.45" y2="275.8" stroke="#111" stroke-width="0.8" />
<line x1="333.64" y1="273.3" x2="333.64" y2="275.8" stroke="#111" stroke-width="0.8" />
<line x1="334.7" y1="273.3" x2="334.7" y2="277.1" stroke="#111" stroke-width="1" />
<line x1="341.68" y1="273.3" x2="341.68" y2="275.8" stroke="#111" stroke-width="0.8" />
<line x1="345.77" y1="273.3" x2="345.77" y2="275.8" stroke="#111" stroke-width="0.8" />
<line x1="348.67" y1="273.3" x2="348.67" y2="275.8" stroke="#111" stroke-width="0.8" />
<line x1="350.92" y1="273.3" x2="350.92" y2="275.8" stroke="#111" stroke-width="0.8" />
<line x1="352.75" y1="273.3" x2="352.75" y2="275.8" stroke="#111" stroke-width="0.8" />
<line x1="354.31" y1="273.3" x2="354.31" y2="275.8" stroke="#111" stroke-width="0.8" />
<line x1="355.65" y1="273.3" x2="355.65" y2="275.8" stroke="#111" stroke-width="0.8" />
<line x1="356.84" y1="273.3" x2="356.84" y2="275.8" stroke="#111" stroke-width="0.8" />
<line x1="357.9" y1="273.3" x2="357.9" y2="277.1" stroke="#111" stroke-width="1" />
<line x1="364.88" y1="273.3" x2="364.88" y2="275.8" stroke="#111" stroke-width="0.8" />
<line x1="368.97" y1="273.3" x2="368.97" y2="275.8" stroke="#111" stroke-width="0.8" />
<line x1="371.87" y1="273.3" x2="371.87" y2="275.8" stroke="#111" stroke-width="0.8" />
<line x1="374.12" y1="273.3" x2="374.12" y2="275.8" stroke="#111" stroke-width="0.8" />
<line x1="375.95" y1="273.3" x2="375.95" y2="275.8" stroke="#111" stroke-width="0.8" />
<line x1="377.51" y1="273.3" x2="377.51" y2="275.8" stroke="#111" stroke-width="0.8" />
<line x1="378.85" y1="273.3" x2="378.85" y2="275.8" stroke="#111" stroke-width="0.8" />
<line x1="380.04" y1="273.3" x2="380.04" y2="275.8" stroke="#111" stroke-width="0.8" />
<line x1="381.1" y1="273.3" x2="381.1" y2="277.1" stroke="#111" stroke-width="1" />
<text x="287" y="287" font-size="9" text-anchor="middle" fill="#1c1c1c" stroke="#1c1c1c" stroke-width="0.13" textLength="7.6" lengthAdjust="spacingAndGlyphs">10</text>
<text x="291.1" y="283.4" font-size="6.8" text-anchor="start" fill="#1c1c1c" stroke="#1c1c1c" stroke-width="0.13" textLength="3.1" lengthAdjust="spacingAndGlyphs">0</text>
<text x="310.2" y="287" font-size="9" text-anchor="middle" fill="#1c1c1c" stroke="#1c1c1c" stroke-width="0.13" textLength="7.6" lengthAdjust="spacingAndGlyphs">10</text>
<text x="314.3" y="283.4" font-size="6.8" text-anchor="start" fill="#1c1c1c" stroke="#1c1c1c" stroke-width="0.13" textLength="3.1" lengthAdjust="spacingAndGlyphs">1</text>
<text x="333.4" y="287" font-size="9" text-anchor="middle" fill="#1c1c1c" stroke="#1c1c1c" stroke-width="0.13" textLength="7.6" lengthAdjust="spacingAndGlyphs">10</text>
<text x="337.5" y="283.4" font-size="6.8" text-anchor="start" fill="#1c1c1c" stroke="#1c1c1c" stroke-width="0.13" textLength="3.1" lengthAdjust="spacingAndGlyphs">2</text>
<text x="356.6" y="287" font-size="9" text-anchor="middle" fill="#1c1c1c" stroke="#1c1c1c" stroke-width="0.13" textLength="7.6" lengthAdjust="spacingAndGlyphs">10</text>
<text x="360.7" y="283.4" font-size="6.8" text-anchor="start" fill="#1c1c1c" stroke="#1c1c1c" stroke-width="0.13" textLength="3.1" lengthAdjust="spacingAndGlyphs">3</text>
<text x="379.8" y="287" font-size="9" text-anchor="middle" fill="#1c1c1c" stroke="#1c1c1c" stroke-width="0.13" textLength="7.6" lengthAdjust="spacingAndGlyphs">10</text>
<text x="383.9" y="283.4" font-size="6.8" text-anchor="start" fill="#1c1c1c" stroke="#1c1c1c" stroke-width="0.13" textLength="3.1" lengthAdjust="spacingAndGlyphs">4</text>
<text x="334.3" y="299.6" font-size="9.5" text-anchor="middle" fill="#1c1c1c" stroke="#1c1c1c" stroke-width="0.1" textLength="8.5" lengthAdjust="spacingAndGlyphs">PE</text>
<text x="262.8" y="229.5" font-size="9.5" text-anchor="middle" fill="#1c1c1c" stroke="#1c1c1c" stroke-width="0.1" textLength="23" lengthAdjust="spacingAndGlyphs" transform="rotate(-90 262.8 229.5)">Counts</text>
<polyline points="289.2,246.88 289.78,249.36 290.59,247.78 291.54,250.2 292.57,250.89 293.61,248.74 294.6,250.75 295.57,248.23 296.58,250.63 297.6,247.99 298.6,250.95 299.54,248.27 300.4,250.19 301.27,249.15 302.02,249.41 302.7,246.55 303.41,247.79 304.2,246.68 304.76,246.81 305.35,246.5 305.97,242.8 306.59,244.51 307.22,241.45 307.84,243.47 308.44,240.09 309,241.77 309.61,240.8 310.21,240.15 310.79,235.37 311.35,235.79 311.88,234.23 312.4,236.49 312.9,236.4 313.67,236.74 314.36,233.63 315.04,234.71 315.8,236.57 316.29,237.43 316.82,237.96 317.36,239.12 317.92,238.84 318.48,243.28 319.04,243.12 319.6,244.22 320.23,242.14 320.86,246.26 321.49,244.05 322.13,243.9 322.8,247.12 323.5,248.29 324.14,246.37 324.81,246.84 325.49,249.26 326.2,250.75 326.9,248.33 327.61,248.98 328.3,250.05 328.83,250.75 329.37,250.83 329.9,251.56 330.43,254.81 330.97,256.01 331.5,253.72 332.03,257.31 332.57,257.95 333.1,256.49 333.63,257.3 334.17,259.56 334.7,260.7 335.23,261.8 335.77,261.96 336.3,261.37 336.83,261.89 337.37,262.72 337.9,264.75 338.49,263.84 339.08,266.54 339.66,267.53 340.24,266.43 340.83,267.18 341.43,267.91 342.05,269.89 342.7,270.4 343.46,269.47 344.23,271.09 345.02,271.8 345.83,270.73 346.68,272.42 347.56,271.77 348.5,271.76 349.18,272.96 349.76,272.13 350.29,273.19 350.85,273.4 351.5,273.01 352.3,273.1 353.3,273.17 354.58,273.24 356.2,273.3 356.79,273.32 357.45,273.33 358.17,273.35 358.95,273.36 359.77,273.37 360.64,273.38 361.55,273.39 362.49,273.4 363.46,273.4 364.45,273.4 365.46,273.4 366.49,273.4 367.53,273.4 368.56,273.4 369.6,273.4 370.63,273.4 371.64,273.4 372.64,273.4 373.62,273.4 374.57,273.4 375.48,273.4 376.36,273.4 377.19,273.4 377.98,273.4 378.71,273.4 379.38,273.4 379.99,273.4 380.53,273.4 381,273.4" fill="none" stroke="#222" stroke-width="0.7" stroke-linejoin="round" stroke-linecap="round" />
<polyline points="289.2,267.86 289.76,266.22 290.5,266.25 291.39,266.48 292.37,267.63 293.41,267.32 294.48,266.19 295.52,265.79 296.5,265.29 297.35,266.47 298.22,265.44 299.11,266.11 300,264.51 300.89,264.79 301.76,264.05 302.61,263.85 303.43,265.08 304.2,263.47 305.02,263.3 305.78,262.27 306.51,263.43 307.22,262.99 307.91,261.17 308.59,261.9 309.29,259.92 310,260.87 310.83,261.1 311.66,260.7 312.49,258.64 313.32,258.74 314.15,257.79 314.98,259.89 315.8,257.61 316.64,259 317.49,257.22 318.34,256.87 319.19,257.07 320.01,256.1 320.78,257.73 321.5,257.74 322.07,257.15 322.6,254.48 323.1,256.14 323.57,253.37 324.02,252.84 324.47,254.09 324.93,252.6 325.4,249.97 325.67,251 325.95,248.34 326.22,250.35 326.49,246.8 326.76,245.75 327.03,247.14 327.3,247.17 327.57,246.15 327.84,243.36 328.11,241.63 328.38,243.7 328.65,239.5 328.93,238.88 329.2,239.95 329.39,239.52 329.59,236.04 329.79,237.65 329.99,234.16 330.19,236.91 330.39,235.43 330.6,234.51 330.8,231.51 331,229.9 331.21,232.22 331.41,228.67 331.61,229.91 331.8,228.4 332,228.33 332.19,224.09 332.38,226.43 332.57,225.99 332.75,225.13 332.93,224.65 333.1,223.54 333.4,219.31 333.7,220.85 333.99,220.04 334.27,218.95 334.54,218.64 334.81,217.26 335.06,213.14 335.31,216.65 335.55,215.26 335.78,211.91 336,214.49 336.32,212.44 336.62,208.27 336.88,210.27 337.14,209.6 337.39,209.49 337.64,205.81 337.9,208.3 338.87,205.83 339.8,205.7 340.04,204.55 340.26,204.82 340.48,203.71 340.69,201.92 340.89,200.98 341.09,203.29 341.3,199.9 341.44,199.99 341.58,203.41 341.71,205.69 341.84,206.48 341.97,207.67 342.11,207.41 342.25,209.84 342.39,210.9 342.54,208.13 342.7,211.92 342.95,209.6 343.21,214.22 343.48,210.89 343.76,215.21 344.04,212.58 344.32,216.51 344.6,214.95 344.7,218.21 344.81,216.01 344.91,220.35 345,220.26 345.1,218.17 345.2,222.38 345.29,222.89 345.39,223.11 345.49,224.65 345.59,225.09 345.69,224.22 345.79,227.08 345.9,225.24 346.01,228.63 346.13,229.85 346.24,231.44 346.37,229.33 346.5,229.91 346.64,233.39 346.78,234.53 346.93,233.4 347.08,233.93 347.23,237.21 347.39,235.5 347.56,239.01 347.72,237.77 347.89,240.57 348.06,238.55 348.23,240.42 348.4,243.17 348.57,244.3 348.74,244.71 348.91,242.89 349.07,246.73 349.24,245.21 349.4,245.62 349.58,248.95 349.76,250.17 349.94,248.92 350.12,252 350.31,250.5 350.49,251.74 350.67,252.45 350.85,252.86 351.03,254.16 351.21,257.11 351.39,257.67 351.57,256.86 351.76,257.57 351.94,257.95 352.12,258.48 352.3,260.94 352.59,260.77 352.87,262.08 353.14,263.1 353.42,263.64 353.69,264.81 353.98,265.38 354.26,266.64 354.56,267.21 354.87,268.94 355.2,269.76 355.85,269.44 356.51,270.32 357.22,271.99 358.03,271.57 359,272.02 359.65,272.89 360.29,272.32 360.96,273.17 361.69,273.2 362.5,273.09 363.44,273.17 364.53,273.23 365.8,273.3 366.5,273.33 367.3,273.35 368.17,273.37 369.12,273.39 370.12,273.4 371.16,273.4 372.22,273.4 373.29,273.4 374.36,273.4 375.41,273.4 376.42,273.4 377.39,273.4 378.29,273.4 379.12,273.4 379.86,273.4 380.49,273.4 381,273.4" fill="none" stroke="#e2502f" stroke-width="0.85" stroke-linejoin="round" stroke-linecap="round" />
<polyline points="289.2,241.67 289.55,244.37 290.02,242.63 290.59,247.14 291.23,247.04 291.94,245.45 292.7,245.23 293.41,248.89 294.19,245.94 295.03,248.31 295.9,244.61 296.78,248.16 297.66,247.55 298.5,246.73 299.33,243.28 300.16,245.5 301,242.64 301.83,241.82 302.64,244.63 303.43,241.19 304.2,240.44 304.95,239.85 305.69,242.07 306.42,239.13 307.12,238.34 307.79,239.84 308.42,236.53 309,236.28 309.86,234.24 310.57,234.31 311.22,233.88 311.9,236.11 312.6,235.8 313.29,235.91 314,236.15 314.8,238.02 315.12,237.79 315.45,238.63 315.79,236.03 316.15,240.38 316.51,241.69 316.88,242.06 317.25,243.6 317.62,240.57 317.98,244.65 318.35,243.38 318.7,243.93 319.02,246.77 319.33,247.78 319.63,249.48 319.94,249.87 320.24,250.72 320.54,251.45 320.85,252.3 321.16,252.91 321.48,250.85 321.81,254.83 322.15,255.03 322.5,256.34 323.23,253.79 323.99,257.21 324.77,258.01 325.59,256.02 326.43,255.66 327.3,258.47 327.98,259.48 328.68,257.05 329.41,257.64 330.14,258.81 330.89,261.02 331.63,260.44 332.37,263.11 333.1,261.23 333.82,262.38 334.53,262.4 335.24,263.11 335.95,265.83 336.66,264.4 337.37,265.04 338.08,266 338.8,268.19 339.52,268.41 340.24,267.25 340.97,267.8 341.69,268.3 342.42,270.38 343.15,270.79 343.87,271.21 344.6,270.25 345.41,272.16 346.2,272.13 346.99,271.64 347.78,272.54 348.6,272.78 349.47,272.77 350.4,272.39 351.09,272.41 351.69,272.45 352.26,273.32 352.86,273.07 353.53,273.13 354.34,273.18 355.33,273.22 356.57,273.26 358.1,273.3 358.73,273.31 359.43,273.32 360.19,273.33 361.02,273.34 361.89,273.35 362.82,273.36 363.78,273.37 364.78,273.37 365.8,273.38 366.84,273.38 367.9,273.38 368.97,273.39 370.03,273.39 371.09,273.39 372.14,273.39 373.17,273.39 374.17,273.39 375.14,273.39 376.08,273.39 376.97,273.39 377.81,273.39 378.59,273.4 379.3,273.4 379.95,273.4 380.52,273.4 381,273.4" fill="none" stroke="#4fa63a" stroke-width="0.8" stroke-linejoin="round" stroke-linecap="round" />
<rect x="288" y="185" width="93.4" height="88.3" fill="none" stroke="#111" stroke-width="1.2"/>
<line x1="288.5" y1="185.6" x2="288.5" y2="272.7" stroke="#4fa63a" stroke-width="1" />
<line x1="352" y1="272.85" x2="380.8" y2="272.85" stroke="#4fa63a" stroke-width="0.6" />
<line x1="288.9" y1="266" x2="288.9" y2="272.7" stroke="#e2502f" stroke-width="0.8" />
<text x="294.5" y="197.6" font-size="7.3" text-anchor="start" fill="#37a052" stroke="#37a052" stroke-width="0.16" textLength="20.5" lengthAdjust="spacingAndGlyphs">TMX1</text>
<text x="315.5" y="195.12" font-size="5.69" text-anchor="start" fill="#37a052" stroke="#37a052" stroke-width="0.12" textLength="5.2" lengthAdjust="spacingAndGlyphs">-/-</text>
<text x="322.2" y="197.6" font-size="7.3" text-anchor="start" fill="#37a052" stroke="#37a052" stroke-width="0.16" textLength="3.6" lengthAdjust="spacingAndGlyphs">+</text>
<text x="327.6" y="197.6" font-size="7.3" text-anchor="start" fill="#37a052" stroke="#37a052" stroke-width="0.16" textLength="22.6" lengthAdjust="spacingAndGlyphs">rTMX1</text>
<text x="348.5" y="212.4" font-size="7.3" text-anchor="start" fill="#b3204a" stroke="#b3204a" stroke-width="0.13" textLength="19.3" lengthAdjust="spacingAndGlyphs">TMX1</text>
<text x="368.3" y="209.92" font-size="5.69" text-anchor="start" fill="#b3204a" stroke="#b3204a" stroke-width="0.12" textLength="5.2" lengthAdjust="spacingAndGlyphs">-/-</text>
<text x="293.1" y="225.8" font-size="7.3" text-anchor="start" fill="#1c1c1c" stroke="#1c1c1c" stroke-width="0.13" textLength="19.8" lengthAdjust="spacingAndGlyphs">TMX1</text>
<text x="313.4" y="223.32" font-size="5.69" text-anchor="start" fill="#1c1c1c" stroke="#1c1c1c" stroke-width="0.12" textLength="8" lengthAdjust="spacingAndGlyphs">+/+</text>
<text x="397.6" y="233" font-size="8.2" text-anchor="middle" fill="#1c1c1c" stroke="#1c1c1c" stroke-width="0.13" textLength="11.8" lengthAdjust="spacingAndGlyphs" transform="rotate(-90 397.6 233)">MFI</text>
<line x1="421.9" y1="192.1" x2="421.9" y2="274.75" stroke="#1a1a1a" stroke-width="1.15" />
<line x1="421.35" y1="274.2" x2="486.9" y2="274.2" stroke="#1a1a1a" stroke-width="1.15" />
<line x1="418.6" y1="194.8" x2="421.9" y2="194.8" stroke="#1a1a1a" stroke-width="0.9" />
<text x="415.6" y="197.43" font-size="7.3" text-anchor="end" fill="#1c1c1c" stroke="#1c1c1c" stroke-width="0.13" textLength="12.45" lengthAdjust="spacingAndGlyphs">200</text>
<line x1="418.6" y1="214.6" x2="421.9" y2="214.6" stroke="#1a1a1a" stroke-width="0.9" />
<text x="415.6" y="217.23" font-size="7.3" text-anchor="end" fill="#1c1c1c" stroke="#1c1c1c" stroke-width="0.13" textLength="12.45" lengthAdjust="spacingAndGlyphs">150</text>
<line x1="418.6" y1="234.4" x2="421.9" y2="234.4" stroke="#1a1a1a" stroke-width="0.9" />
<text x="415.6" y="237.03" font-size="7.3" text-anchor="end" fill="#1c1c1c" stroke="#1c1c1c" stroke-width="0.13" textLength="12.45" lengthAdjust="spacingAndGlyphs">100</text>
<line x1="418.6" y1="254.2" x2="421.9" y2="254.2" stroke="#1a1a1a" stroke-width="0.9" />
<text x="415.6" y="256.83" font-size="7.3" text-anchor="end" fill="#1c1c1c" stroke="#1c1c1c" stroke-width="0.13" textLength="8.2" lengthAdjust="spacingAndGlyphs">50</text>
<line x1="418.6" y1="274" x2="421.9" y2="274" stroke="#1a1a1a" stroke-width="0.9" />
<text x="415.6" y="276.63" font-size="7.3" text-anchor="end" fill="#1c1c1c" stroke="#1c1c1c" stroke-width="0.13" textLength="3.95" lengthAdjust="spacingAndGlyphs">0</text>
<rect x="427.1" y="264.3" width="10.8" height="9.9" fill="#a2072d" />
<line x1="432.5" y1="264.3" x2="432.5" y2="263.6" stroke="#111" stroke-width="0.9" />
<line x1="429.7" y1="263.6" x2="435.3" y2="263.6" stroke="#111" stroke-width="0.9" />
<rect x="448.7" y="213.7" width="10.7" height="60.5" fill="#a2072d" />
<line x1="454.05" y1="213.7" x2="454.05" y2="211.6" stroke="#111" stroke-width="0.9" />
<line x1="451.25" y1="211.6" x2="456.85" y2="211.6" stroke="#111" stroke-width="0.9" />
<rect x="470.2" y="264.3" width="10.8" height="9.9" fill="#a2072d" />
<line x1="475.6" y1="264.3" x2="475.6" y2="262.2" stroke="#111" stroke-width="0.9" />
<line x1="472.8" y1="262.2" x2="478.4" y2="262.2" stroke="#111" stroke-width="0.9" />
<path d="M429,196.7 L429,195.25 Q429,193.65 430.6,193.65 L478,193.65 Q479.6,193.65 479.6,195.25 L479.6,196.7" fill="none" stroke="#1a1a1a" stroke-width="1"/>
<text x="454" y="191.3" font-size="7.6" text-anchor="middle" fill="#1c1c1c" stroke="#1c1c1c" stroke-width="0.2" textLength="9.8" lengthAdjust="spacingAndGlyphs">NS</text>
<path d="M429.6,210.6 L429.6,209.1 Q429.6,207.5 431.2,207.5 L451.1,207.5 Q452.7,207.5 452.7,209.1 L452.7,210.6" fill="none" stroke="#1a1a1a" stroke-width="1"/>
<path d="M455.4,210.6 L455.4,209.1 Q455.4,207.5 457,207.5 L477.5,207.5 Q479.1,207.5 479.1,209.1 L479.1,210.6" fill="none" stroke="#1a1a1a" stroke-width="1"/>
<circle cx="438.1" cy="204" r="0.75" fill="#1e1e1e"/>
<line x1="438.1" y1="202.85" x2="438.1" y2="205.15" stroke="#1e1e1e" stroke-width="0.55"/>
<line x1="437.1" y1="203.43" x2="439.1" y2="204.57" stroke="#1e1e1e" stroke-width="0.55"/>
<line x1="439.1" y1="203.43" x2="437.1" y2="204.57" stroke="#1e1e1e" stroke-width="0.55"/>
<circle cx="441.4" cy="204" r="0.75" fill="#1e1e1e"/>
<line x1="441.4" y1="202.85" x2="441.4" y2="205.15" stroke="#1e1e1e" stroke-width="0.55"/>
<line x1="440.4" y1="203.43" x2="442.4" y2="204.57" stroke="#1e1e1e" stroke-width="0.55"/>
<line x1="442.4" y1="203.43" x2="440.4" y2="204.57" stroke="#1e1e1e" stroke-width="0.55"/>
<circle cx="444.7" cy="204" r="0.75" fill="#1e1e1e"/>
<line x1="444.7" y1="202.85" x2="444.7" y2="205.15" stroke="#1e1e1e" stroke-width="0.55"/>
<line x1="443.7" y1="203.43" x2="445.7" y2="204.57" stroke="#1e1e1e" stroke-width="0.55"/>
<line x1="445.7" y1="203.43" x2="443.7" y2="204.57" stroke="#1e1e1e" stroke-width="0.55"/>
<circle cx="463.6" cy="204" r="0.75" fill="#1e1e1e"/>
<line x1="463.6" y1="202.85" x2="463.6" y2="205.15" stroke="#1e1e1e" stroke-width="0.55"/>
<line x1="462.6" y1="203.43" x2="464.6" y2="204.57" stroke="#1e1e1e" stroke-width="0.55"/>
<line x1="464.6" y1="203.43" x2="462.6" y2="204.57" stroke="#1e1e1e" stroke-width="0.55"/>
<circle cx="466.9" cy="204" r="0.75" fill="#1e1e1e"/>
<line x1="466.9" y1="202.85" x2="466.9" y2="205.15" stroke="#1e1e1e" stroke-width="0.55"/>
<line x1="465.9" y1="203.43" x2="467.9" y2="204.57" stroke="#1e1e1e" stroke-width="0.55"/>
<line x1="467.9" y1="203.43" x2="465.9" y2="204.57" stroke="#1e1e1e" stroke-width="0.55"/>
<circle cx="470.2" cy="204" r="0.75" fill="#1e1e1e"/>
<line x1="470.2" y1="202.85" x2="470.2" y2="205.15" stroke="#1e1e1e" stroke-width="0.55"/>
<line x1="469.2" y1="203.43" x2="471.2" y2="204.57" stroke="#1e1e1e" stroke-width="0.55"/>
<line x1="471.2" y1="203.43" x2="469.2" y2="204.57" stroke="#1e1e1e" stroke-width="0.55"/>
<line x1="432.5" y1="274.2" x2="432.5" y2="277.3" stroke="#111" stroke-width="0.9" />
<line x1="454" y1="274.2" x2="454" y2="277.3" stroke="#111" stroke-width="0.9" />
<line x1="475.6" y1="274.2" x2="475.6" y2="277.3" stroke="#111" stroke-width="0.9" />
<text x="403.3" y="287.5" font-size="8.3" text-anchor="start" fill="#1c1c1c" stroke="#1c1c1c" stroke-width="0.13" textLength="24.2" lengthAdjust="spacingAndGlyphs">rTMX1</text>
<text x="432.5" y="287.4" font-size="8.3" text-anchor="middle" fill="#1c1c1c" stroke="#1c1c1c" stroke-width="0.13">–</text>
<text x="454" y="287.4" font-size="8.3" text-anchor="middle" fill="#1c1c1c" stroke="#1c1c1c" stroke-width="0.13">–</text>
<text x="475.6" y="287.6" font-size="8.3" text-anchor="middle" fill="#1c1c1c" stroke="#1c1c1c" stroke-width="0.13">+</text>
<line x1="450.5" y1="291.8" x2="483.1" y2="291.8" stroke="#222" stroke-width="0.9" />
<text x="417.4" y="304.5" font-size="8.3" text-anchor="start" fill="#1c1c1c" stroke="#1c1c1c" stroke-width="0.13" textLength="21.4" lengthAdjust="spacingAndGlyphs">TMX1</text>
<text x="439.3" y="301.68" font-size="6.47" text-anchor="start" fill="#1c1c1c" stroke="#1c1c1c" stroke-width="0.12" textLength="8" lengthAdjust="spacingAndGlyphs">+/+</text>
<text x="452.7" y="304.5" font-size="8.3" text-anchor="start" fill="#1c1c1c" stroke="#1c1c1c" stroke-width="0.13" textLength="21.4" lengthAdjust="spacingAndGlyphs">TMX1</text>
<text x="474.6" y="301.68" font-size="6.47" text-anchor="start" fill="#1c1c1c" stroke="#1c1c1c" stroke-width="0.12" textLength="6" lengthAdjust="spacingAndGlyphs">-/-</text>
<text x="7.3" y="327.5" font-size="11.8" text-anchor="start" fill="#000" stroke="#000" stroke-width="0.4" textLength="6.5" lengthAdjust="spacingAndGlyphs" font-weight="bold">F</text>
<text x="71.5" y="326.3" font-size="9.4" text-anchor="middle" fill="#1c1c1c" stroke="#1c1c1c" stroke-width="0.1" textLength="23.2" lengthAdjust="spacingAndGlyphs">3 min</text>
<text x="181" y="326.3" font-size="9.4" text-anchor="middle" fill="#1c1c1c" stroke="#1c1c1c" stroke-width="0.1" textLength="23.2" lengthAdjust="spacingAndGlyphs">7 min</text>
<text x="291" y="326.3" font-size="9.4" text-anchor="middle" fill="#1c1c1c" stroke="#1c1c1c" stroke-width="0.1" textLength="27.8" lengthAdjust="spacingAndGlyphs">12 min</text>
<text x="405" y="326.3" font-size="9.4" text-anchor="middle" fill="#1c1c1c" stroke="#1c1c1c" stroke-width="0.1" textLength="28.3" lengthAdjust="spacingAndGlyphs">20 min</text>
<defs>
<clipPath id="cp00"><rect x="17.46" y="331.2" width="107.64" height="80.6"/></clipPath>
<clipPath id="cp01"><rect x="129.9" y="331.2" width="107.2" height="80.6"/></clipPath>
<clipPath id="cp02"><rect x="241.4" y="331.9" width="107.5" height="80.5"/></clipPath>
<clipPath id="cp03"><rect x="352.2" y="331.9" width="107.6" height="80.5"/></clipPath>
<clipPath id="cp10"><rect x="17.46" y="416.7" width="107.64" height="80.7"/></clipPath>
<clipPath id="cp11"><rect x="129.9" y="416.7" width="107.2" height="80.7"/></clipPath>
<clipPath id="cp12"><rect x="241.4" y="417.4" width="107.5" height="80.3"/></clipPath>
<clipPath id="cp13"><rect x="352.2" y="417.4" width="107.6" height="80.3"/></clipPath>
<filter id="bl" x="-20%" y="-20%" width="140%" height="140%"><feGaussianBlur stdDeviation="0.55"/></filter>
</defs>
<rect x="17.46" y="331.2" width="107.64" height="80.6" fill="#020202" />
<rect x="129.9" y="331.2" width="107.2" height="80.6" fill="#020202" />
<rect x="241.4" y="331.9" width="107.5" height="80.5" fill="#020202" />
<rect x="352.2" y="331.9" width="107.6" height="80.5" fill="#020202" />
<rect x="17.46" y="416.7" width="107.64" height="80.7" fill="#020202" />
<rect x="129.9" y="416.7" width="107.2" height="80.7" fill="#020202" />
<rect x="241.4" y="417.4" width="107.5" height="80.3" fill="#020202" />
<rect x="352.2" y="417.4" width="107.6" height="80.3" fill="#020202" />
<g clip-path="url(#cp00)">
<g filter="url(#bl)">
<ellipse cx="75.4" cy="358.3" rx="1" ry="1" fill="#3f8f2a" opacity="0.75" transform="rotate(0 75.4 358.3)"/>
<ellipse cx="55.2" cy="409.6" rx="0.8" ry="0.8" fill="#3f8f2a" opacity="0.5" transform="rotate(0 55.2 409.6)"/>
<ellipse cx="112" cy="353.5" rx="0.5" ry="0.5" fill="#3f8f2a" opacity="0.4" transform="rotate(0 112 353.5)"/>
</g>
<line x1="38.84" y1="411.26" x2="88.36" y2="330.14" stroke="#fff" stroke-width="1.3" stroke-dasharray="4.3 3.0"/>
<line x1="46.94" y1="411.26" x2="96.46" y2="330.14" stroke="#fff" stroke-width="1.3" stroke-dasharray="4.3 3.0"/>
<rect x="108.8" y="407.2" width="14.4" height="3.5" fill="#fff" />
</g>
<g clip-path="url(#cp01)">
<g filter="url(#bl)">
<ellipse cx="188.17" cy="355.57" rx="2.5" ry="3.6" fill="#5fb83c" opacity="1" transform="rotate(35 188.17 355.57)"/>
<ellipse cx="193.96" cy="345.88" rx="2.2" ry="2.9" fill="#5fb83c" opacity="1" transform="rotate(35 193.96 345.88)"/>
<ellipse cx="197.99" cy="342.79" rx="1.5" ry="1.7" fill="#5fb83c" opacity="1" transform="rotate(35 197.99 342.79)"/>
<ellipse cx="191.13" cy="350.46" rx="1.4" ry="2.2" fill="#5fb83c" opacity="1" transform="rotate(35 191.13 350.46)"/>
<ellipse cx="184.27" cy="361.49" rx="0.9" ry="1.2" fill="#3f8f2a" opacity="0.85" transform="rotate(35 184.27 361.49)"/>
<ellipse cx="182.38" cy="363.92" rx="0.8" ry="1" fill="#3f8f2a" opacity="0.7" transform="rotate(35 182.38 363.92)"/>
<ellipse cx="179.42" cy="369.43" rx="1" ry="1.2" fill="#3f8f2a" opacity="0.8" transform="rotate(35 179.42 369.43)"/>
</g>
<line x1="148.92" y1="412.05" x2="199.58" y2="330.45" stroke="#fff" stroke-width="1.3" stroke-dasharray="4.3 3.0"/>
<line x1="157.17" y1="412.05" x2="207.83" y2="330.45" stroke="#fff" stroke-width="1.3" stroke-dasharray="4.3 3.0"/>
<rect x="220.9" y="407.7" width="14.5" height="3.3" fill="#fff" />
</g>
<g clip-path="url(#cp02)">
<g filter="url(#bl)">
<path d="M290.29,379.74 L294.09,374.21 L297.81,367.53 L301.63,360.51 L305.52,353.84 L309.36,347.63 L312.2,343.6 L313.67,340.86 L311.47,338.53 L308.36,340.09 L304.48,344.14 L300.24,350.58 L296.05,357.37 L292.34,364.61 L288.79,371.39 L286.39,377.7 Z" fill="#5fb83c" opacity="1" stroke="#5fb83c" stroke-width="0.8" stroke-linejoin="round"/>
<ellipse cx="314.32" cy="332.96" rx="1.3" ry="1.6" fill="#3f8f2a" opacity="0.7" transform="rotate(35 314.32 332.96)"/>
<ellipse cx="312.3" cy="338.08" rx="1.6" ry="2.2" fill="#3f8f2a" opacity="0.6" transform="rotate(35 312.3 338.08)"/>
</g>
<line x1="264.25" y1="407.33" x2="311.88" y2="330.15" stroke="#fff" stroke-width="1.3" stroke-dasharray="4.3 3.0"/>
<line x1="264.26" y1="421.54" x2="320.57" y2="330.15" stroke="#fff" stroke-width="1.3" stroke-dasharray="4.3 3.0"/>
<rect x="332.2" y="408.1" width="14.5" height="3.2" fill="#fff" />
</g>
<g clip-path="url(#cp03)">
<g filter="url(#bl)">
<path d="M398.34,381.82 L397,377.11 L400.77,369.03 L406.15,358.94 L411.53,350.19 L415.57,344.54 L420.28,341.04 L423.38,339.69 L424.45,341.57 L421.22,345.88 L418.53,349.11 L416.38,351.27 L415.84,354.9 L412.88,360.96 L407.5,369.7 L402.79,377.78 Z" fill="#5fb83c" opacity="1" stroke="#5fb83c" stroke-width="0.8" stroke-linejoin="round"/>
<ellipse cx="424.72" cy="332.42" rx="1" ry="1.2" fill="#3f8f2a" opacity="0.8" transform="rotate(35 424.72 332.42)"/>
</g>
<path d="M412.34,349.92 L415.57,350.19" stroke="#2c6a1a" stroke-width="0.6" opacity="0.8"/>
<line x1="373.98" y1="409.2" x2="423.9" y2="330.16" stroke="#fff" stroke-width="1.3" stroke-dasharray="4.3 3.0"/>
<line x1="374.29" y1="422.85" x2="431.27" y2="330.14" stroke="#fff" stroke-width="1.3" stroke-dasharray="4.3 3.0"/>
<rect x="443.6" y="408.3" width="14.4" height="3.2" fill="#fff" />
</g>
<g clip-path="url(#cp10)">
<line x1="40.93" y1="415.25" x2="106.47" y2="497.75" stroke="#fff" stroke-width="1.3" stroke-dasharray="4.3 3.0"/>
<line x1="48.63" y1="415.25" x2="111.67" y2="494.35" stroke="#fff" stroke-width="1.3" stroke-dasharray="4.3 3.0"/>
<rect x="108.9" y="493.2" width="14.1" height="3.1" fill="#fff" />
</g>
<g clip-path="url(#cp11)">
<g filter="url(#bl)">
<path d="M177.08,440.88 L178.63,444.62 L181.52,447.93 L183.87,450.96 L185.58,449.57 L183.08,446.67 L180.59,443.25 L178.11,440.26 Z" fill="#5fb83c" opacity="1" stroke="#5fb83c" stroke-width="0.8" stroke-linejoin="round"/>
<ellipse cx="187.15" cy="452.95" rx="0.7" ry="0.8" fill="#5fb83c" opacity="0.9" transform="rotate(0 187.15 452.95)"/>
<ellipse cx="174.5" cy="435.46" rx="0.5" ry="0.6" fill="#3f8f2a" opacity="0.6" transform="rotate(0 174.5 435.46)"/>
</g>
<line x1="153.52" y1="415.36" x2="218.48" y2="496.04" stroke="#fff" stroke-width="1.3" stroke-dasharray="4.3 3.0"/>
<line x1="161.59" y1="415.38" x2="227.63" y2="495.56" stroke="#fff" stroke-width="1.3" stroke-dasharray="4.3 3.0"/>
<rect x="221.3" y="493.4" width="14.1" height="3.1" fill="#fff" />
</g>
<g clip-path="url(#cp12)">
<g filter="url(#bl)">
<path d="M283.28,432.66 L285.28,436.69 L287.58,441.32 L290.51,446.59 L294.1,450.68 L297.84,454.4 L301.77,458.59 L305.05,462.68 L306.43,461.53 L302.98,457.55 L299.37,453.12 L296.66,448.77 L294.06,443.98 L289.71,439.83 L286.63,435.84 L283.79,432.33 Z" fill="#5fb83c" opacity="1" stroke="#5fb83c" stroke-width="0.8" stroke-linejoin="round"/>
</g>
<line x1="265.52" y1="416.06" x2="330.48" y2="496.74" stroke="#fff" stroke-width="1.3" stroke-dasharray="4.3 3.0"/>
<line x1="272.89" y1="416.09" x2="339.64" y2="496.95" stroke="#fff" stroke-width="1.3" stroke-dasharray="4.3 3.0"/>
<rect x="332.5" y="493.6" width="14.5" height="3.2" fill="#fff" />
</g>
<g clip-path="url(#cp13)">
<g filter="url(#bl)">
<path d="M393.86,432.02 L395.37,435.97 L397.93,439.77 L401.91,446.66 L405.47,450.31 L408.91,453.59 L412.44,457.5 L415.57,461.73 L417.26,460.33 L413.66,456.48 L410.46,452.32 L407.98,448.33 L405.35,443.91 L399.37,438.68 L397.08,434.94 L394.56,431.63 Z" fill="#5fb83c" opacity="1" stroke="#5fb83c" stroke-width="0.8" stroke-linejoin="round"/>
</g>
<line x1="376.63" y1="416.06" x2="441.17" y2="496.74" stroke="#fff" stroke-width="1.3" stroke-dasharray="4.3 3.0"/>
<line x1="384.22" y1="414.66" x2="449.53" y2="495.64" stroke="#fff" stroke-width="1.3" stroke-dasharray="4.3 3.0"/>
<rect x="443.5" y="493.6" width="14.5" height="3.2" fill="#fff" />
</g>
<text x="463.2" y="369.5" font-size="8.3" text-anchor="start" fill="#1c1c1c" stroke="#1c1c1c" stroke-width="0.13" textLength="20.5" lengthAdjust="spacingAndGlyphs">TMX1</text>
<text x="484.2" y="366.68" font-size="6.47" text-anchor="start" fill="#1c1c1c" stroke="#1c1c1c" stroke-width="0.12" textLength="5.2" lengthAdjust="spacingAndGlyphs">-/-</text>
<text x="463.2" y="457.1" font-size="8.3" text-anchor="start" fill="#1c1c1c" stroke="#1c1c1c" stroke-width="0.13" textLength="20.5" lengthAdjust="spacingAndGlyphs">TMX1</text>
<text x="484.2" y="454.28" font-size="6.47" text-anchor="start" fill="#1c1c1c" stroke="#1c1c1c" stroke-width="0.12" textLength="9.2" lengthAdjust="spacingAndGlyphs">+/+</text>
<text x="6.3" y="519.4" font-size="11.8" text-anchor="start" fill="#000" stroke="#000" stroke-width="0.4" textLength="8.7" lengthAdjust="spacingAndGlyphs" font-weight="bold">G</text>
<text x="38.6" y="519.6" font-size="9" text-anchor="start" fill="#1c1c1c" stroke="#1c1c1c" stroke-width="0.13" textLength="15.2" lengthAdjust="spacingAndGlyphs">FeCl</text>
<text x="54" y="521.6" font-size="5.6" text-anchor="start" fill="#1c1c1c" stroke="#1c1c1c" stroke-width="0.13" textLength="2.8" lengthAdjust="spacingAndGlyphs">3</text>
<text x="57" y="519.6" font-size="9" text-anchor="start" fill="#1c1c1c" stroke="#1c1c1c" stroke-width="0.13" textLength="116.3" lengthAdjust="spacingAndGlyphs">-induced mesenteric thrombosis</text>
<line x1="43.8" y1="527" x2="43.8" y2="628.8" stroke="#111" stroke-width="1.1" />
<line x1="43.3" y1="628.3" x2="168.8" y2="628.3" stroke="#111" stroke-width="1.1" />
<line x1="40.5" y1="529.3" x2="43.8" y2="529.3" stroke="#111" stroke-width="0.9" />
<text x="37.3" y="532" font-size="8.6" text-anchor="end" fill="#1c1c1c" stroke="#1c1c1c" stroke-width="0.13" textLength="4.3" lengthAdjust="spacingAndGlyphs">6</text>
<line x1="40.5" y1="562.3" x2="43.8" y2="562.3" stroke="#111" stroke-width="0.9" />
<text x="37.3" y="565" font-size="8.6" text-anchor="end" fill="#1c1c1c" stroke="#1c1c1c" stroke-width="0.13" textLength="4.3" lengthAdjust="spacingAndGlyphs">4</text>
<line x1="40.5" y1="595.3" x2="43.8" y2="595.3" stroke="#111" stroke-width="0.9" />
<text x="37.3" y="598" font-size="8.6" text-anchor="end" fill="#1c1c1c" stroke="#1c1c1c" stroke-width="0.13" textLength="4.3" lengthAdjust="spacingAndGlyphs">2</text>
<line x1="40.5" y1="628.3" x2="43.8" y2="628.3" stroke="#111" stroke-width="0.9" />
<text x="37.3" y="631" font-size="8.6" text-anchor="end" fill="#1c1c1c" stroke="#1c1c1c" stroke-width="0.13" textLength="4.3" lengthAdjust="spacingAndGlyphs">0</text>
<line x1="46.75" y1="628.3" x2="46.75" y2="631.5" stroke="#111" stroke-width="0.9" />
<text x="46.75" y="641.6" font-size="9" text-anchor="middle" fill="#1c1c1c" stroke="#1c1c1c" stroke-width="0.13" textLength="3.9" lengthAdjust="spacingAndGlyphs">1</text>
<line x1="59.33" y1="628.3" x2="59.33" y2="631.5" stroke="#111" stroke-width="0.9" />
<text x="59.33" y="641.6" font-size="9" text-anchor="middle" fill="#1c1c1c" stroke="#1c1c1c" stroke-width="0.13" textLength="3.9" lengthAdjust="spacingAndGlyphs">3</text>
<line x1="71.91" y1="628.3" x2="71.91" y2="631.5" stroke="#111" stroke-width="0.9" />
<text x="71.91" y="641.6" font-size="9" text-anchor="middle" fill="#1c1c1c" stroke="#1c1c1c" stroke-width="0.13" textLength="3.9" lengthAdjust="spacingAndGlyphs">5</text>
<line x1="84.49" y1="628.3" x2="84.49" y2="631.5" stroke="#111" stroke-width="0.9" />
<text x="84.49" y="641.6" font-size="9" text-anchor="middle" fill="#1c1c1c" stroke="#1c1c1c" stroke-width="0.13" textLength="3.9" lengthAdjust="spacingAndGlyphs">7</text>
<line x1="97.07" y1="628.3" x2="97.07" y2="631.5" stroke="#111" stroke-width="0.9" />
<text x="97.07" y="641.6" font-size="9" text-anchor="middle" fill="#1c1c1c" stroke="#1c1c1c" stroke-width="0.13" textLength="3.9" lengthAdjust="spacingAndGlyphs">9</text>
<line x1="115.94" y1="628.3" x2="115.94" y2="631.5" stroke="#111" stroke-width="0.9" />
<text x="115.94" y="641.6" font-size="9" text-anchor="middle" fill="#1c1c1c" stroke="#1c1c1c" stroke-width="0.13" textLength="8.1" lengthAdjust="spacingAndGlyphs">12</text>
<line x1="134.81" y1="628.3" x2="134.81" y2="631.5" stroke="#111" stroke-width="0.9" />
<text x="134.81" y="641.6" font-size="9" text-anchor="middle" fill="#1c1c1c" stroke="#1c1c1c" stroke-width="0.13" textLength="8.1" lengthAdjust="spacingAndGlyphs">15</text>
<line x1="166.26" y1="628.3" x2="166.26" y2="631.5" stroke="#111" stroke-width="0.9" />
<text x="166.26" y="641.6" font-size="9" text-anchor="middle" fill="#1c1c1c" stroke="#1c1c1c" stroke-width="0.13" textLength="8.1" lengthAdjust="spacingAndGlyphs">20</text>
<text x="106.3" y="653.9" font-size="9.2" text-anchor="middle" fill="#1c1c1c" stroke="#1c1c1c" stroke-width="0.1" textLength="37" lengthAdjust="spacingAndGlyphs">Time (min)</text>
<text x="16" y="577" font-size="9.2" text-anchor="middle" fill="#1c1c1c" stroke="#1c1c1c" stroke-width="0.1" textLength="72" lengthAdjust="spacingAndGlyphs" transform="rotate(-90 16 577)">Platelet incorporation</text>
<g transform="translate(-1.1 -0.3) rotate(-90 29 578)">
<text x="27.2" y="578" font-size="9.2" text-anchor="middle" fill="#1c1c1c" stroke="#1c1c1c" stroke-width="0.1" textLength="24" lengthAdjust="spacingAndGlyphs">(FI/μm</text>
<text x="39.5" y="574.6" font-size="5.6" text-anchor="start" fill="#1c1c1c" stroke="#1c1c1c" stroke-width="0.13" textLength="2.8" lengthAdjust="spacingAndGlyphs">2</text>
<text x="42.7" y="578" font-size="9.2" text-anchor="start" fill="#1c1c1c" stroke="#1c1c1c" stroke-width="0.1" textLength="2.4" lengthAdjust="spacingAndGlyphs">)</text>
</g>
<line x1="59.33" y1="618.5" x2="59.33" y2="622" stroke="#111" stroke-width="1.25" />
<line x1="56.83" y1="618.5" x2="61.83" y2="618.5" stroke="#111" stroke-width="1.25" />
<line x1="56.83" y1="622" x2="61.83" y2="622" stroke="#111" stroke-width="1.25" />
<line x1="71.91" y1="603.8" x2="71.91" y2="612.5" stroke="#111" stroke-width="1.25" />
<line x1="69.41" y1="603.8" x2="74.41" y2="603.8" stroke="#111" stroke-width="1.25" />
<line x1="69.41" y1="612.5" x2="74.41" y2="612.5" stroke="#111" stroke-width="1.25" />
<line x1="84.49" y1="585.5" x2="84.49" y2="598" stroke="#111" stroke-width="1.25" />
<line x1="81.99" y1="585.5" x2="86.99" y2="585.5" stroke="#111" stroke-width="1.25" />
<line x1="81.99" y1="598" x2="86.99" y2="598" stroke="#111" stroke-width="1.25" />
<line x1="97.07" y1="558.8" x2="97.07" y2="575.8" stroke="#111" stroke-width="1.25" />
<line x1="94.57" y1="558.8" x2="99.57" y2="558.8" stroke="#111" stroke-width="1.25" />
<line x1="94.57" y1="575.8" x2="99.57" y2="575.8" stroke="#111" stroke-width="1.25" />
<line x1="115.94" y1="542.5" x2="115.94" y2="560" stroke="#111" stroke-width="1.25" />
<line x1="113.44" y1="542.5" x2="118.44" y2="542.5" stroke="#111" stroke-width="1.25" />
<line x1="113.44" y1="560" x2="118.44" y2="560" stroke="#111" stroke-width="1.25" />
<line x1="134.81" y1="540.5" x2="134.81" y2="555.5" stroke="#111" stroke-width="1.25" />
<line x1="132.31" y1="540.5" x2="137.31" y2="540.5" stroke="#111" stroke-width="1.25" />
<line x1="132.31" y1="555.5" x2="137.31" y2="555.5" stroke="#111" stroke-width="1.25" />
<line x1="166.26" y1="537.5" x2="166.26" y2="553" stroke="#111" stroke-width="1.25" />
<line x1="163.76" y1="537.5" x2="168.76" y2="537.5" stroke="#111" stroke-width="1.25" />
<line x1="163.76" y1="553" x2="168.76" y2="553" stroke="#111" stroke-width="1.25" />
<line x1="71.91" y1="610" x2="71.91" y2="617" stroke="#111" stroke-width="1.25" />
<line x1="69.41" y1="610" x2="74.41" y2="610" stroke="#111" stroke-width="1.25" />
<line x1="69.41" y1="617" x2="74.41" y2="617" stroke="#111" stroke-width="1.25" />
<line x1="84.49" y1="599.3" x2="84.49" y2="608" stroke="#111" stroke-width="1.25" />
<line x1="81.99" y1="599.3" x2="86.99" y2="599.3" stroke="#111" stroke-width="1.25" />
<line x1="81.99" y1="608" x2="86.99" y2="608" stroke="#111" stroke-width="1.25" />
<line x1="97.07" y1="591.8" x2="97.07" y2="601.8" stroke="#111" stroke-width="1.25" />
<line x1="94.57" y1="591.8" x2="99.57" y2="591.8" stroke="#111" stroke-width="1.25" />
<line x1="94.57" y1="601.8" x2="99.57" y2="601.8" stroke="#111" stroke-width="1.25" />
<line x1="115.94" y1="584.3" x2="115.94" y2="596.3" stroke="#111" stroke-width="1.25" />
<line x1="113.44" y1="584.3" x2="118.44" y2="584.3" stroke="#111" stroke-width="1.25" />
<line x1="113.44" y1="596.3" x2="118.44" y2="596.3" stroke="#111" stroke-width="1.25" />
<line x1="134.81" y1="580.8" x2="134.81" y2="593" stroke="#111" stroke-width="1.25" />
<line x1="132.31" y1="580.8" x2="137.31" y2="580.8" stroke="#111" stroke-width="1.25" />
<line x1="132.31" y1="593" x2="137.31" y2="593" stroke="#111" stroke-width="1.25" />
<line x1="166.26" y1="583.8" x2="166.26" y2="593.3" stroke="#111" stroke-width="1.25" />
<line x1="163.76" y1="583.8" x2="168.76" y2="583.8" stroke="#111" stroke-width="1.25" />
<line x1="163.76" y1="593.3" x2="168.76" y2="593.3" stroke="#111" stroke-width="1.25" />
<polyline points="46.75,626.3 59.33,620.2 71.91,608 84.49,591.8 97.07,567.5 115.94,551.3 134.81,548.3 166.26,545.8" fill="none" stroke="#a2072d" stroke-width="1.5" stroke-linejoin="round" stroke-linecap="round" />
<polyline points="46.75,626.6 59.33,620.8 71.91,613.8 84.49,603.8 97.07,596.8 115.94,590 134.81,587 166.26,588.5" fill="none" stroke="#a2072d" stroke-width="1.5" stroke-linejoin="round" stroke-linecap="round" />
<rect x="44.65" y="624.2" width="4.2" height="4.2" fill="#a2072d" />
<rect x="57.23" y="618.1" width="4.2" height="4.2" fill="#a2072d" />
<rect x="69.81" y="605.9" width="4.2" height="4.2" fill="#a2072d" />
<rect x="82.39" y="589.7" width="4.2" height="4.2" fill="#a2072d" />
<rect x="94.97" y="565.4" width="4.2" height="4.2" fill="#a2072d" />
<rect x="113.84" y="549.2" width="4.2" height="4.2" fill="#a2072d" />
<rect x="132.71" y="546.2" width="4.2" height="4.2" fill="#a2072d" />
<rect x="164.16" y="543.7" width="4.2" height="4.2" fill="#a2072d" />
<circle cx="46.75" cy="626.6" r="1.9" fill="#a2072d"/>
<circle cx="59.33" cy="620.8" r="1.9" fill="#a2072d"/>
<circle cx="71.91" cy="613.8" r="1.9" fill="#a2072d"/>
<circle cx="84.49" cy="603.8" r="1.9" fill="#a2072d"/>
<circle cx="97.07" cy="596.8" r="1.9" fill="#a2072d"/>
<circle cx="115.94" cy="590" r="1.9" fill="#a2072d"/>
<circle cx="134.81" cy="587" r="1.9" fill="#a2072d"/>
<circle cx="166.26" cy="588.5" r="1.9" fill="#a2072d"/>
<text x="49.2" y="620.6" font-size="7.6" text-anchor="middle" fill="#1c1c1c" stroke="#1c1c1c" stroke-width="0.2" textLength="9.8" lengthAdjust="spacingAndGlyphs">NS</text>
<text x="59.3" y="613" font-size="7.6" text-anchor="middle" fill="#1c1c1c" stroke="#1c1c1c" stroke-width="0.2" textLength="9.8" lengthAdjust="spacingAndGlyphs">NS</text>
<text x="70.8" y="599.3" font-size="7.6" text-anchor="middle" fill="#1c1c1c" stroke="#1c1c1c" stroke-width="0.2" textLength="9.8" lengthAdjust="spacingAndGlyphs">NS</text>
<text x="82.5" y="582" font-size="7.6" text-anchor="middle" fill="#1c1c1c" stroke="#1c1c1c" stroke-width="0.2" textLength="9.8" lengthAdjust="spacingAndGlyphs">NS</text>
<circle cx="95.3" cy="553.7" r="0.75" fill="#1e1e1e"/>
<line x1="95.3" y1="552.55" x2="95.3" y2="554.85" stroke="#1e1e1e" stroke-width="0.55"/>
<line x1="94.3" y1="553.12" x2="96.3" y2="554.28" stroke="#1e1e1e" stroke-width="0.55"/>
<line x1="96.3" y1="553.12" x2="94.3" y2="554.28" stroke="#1e1e1e" stroke-width="0.55"/>
<circle cx="98.7" cy="553.7" r="0.75" fill="#1e1e1e"/>
<line x1="98.7" y1="552.55" x2="98.7" y2="554.85" stroke="#1e1e1e" stroke-width="0.55"/>
<line x1="97.7" y1="553.12" x2="99.7" y2="554.28" stroke="#1e1e1e" stroke-width="0.55"/>
<line x1="99.7" y1="553.12" x2="97.7" y2="554.28" stroke="#1e1e1e" stroke-width="0.55"/>
<circle cx="114.1" cy="538.7" r="0.75" fill="#1e1e1e"/>
<line x1="114.1" y1="537.55" x2="114.1" y2="539.85" stroke="#1e1e1e" stroke-width="0.55"/>
<line x1="113.1" y1="538.12" x2="115.1" y2="539.28" stroke="#1e1e1e" stroke-width="0.55"/>
<line x1="115.1" y1="538.12" x2="113.1" y2="539.28" stroke="#1e1e1e" stroke-width="0.55"/>
<circle cx="117.5" cy="538.7" r="0.75" fill="#1e1e1e"/>
<line x1="117.5" y1="537.55" x2="117.5" y2="539.85" stroke="#1e1e1e" stroke-width="0.55"/>
<line x1="116.5" y1="538.12" x2="118.5" y2="539.28" stroke="#1e1e1e" stroke-width="0.55"/>
<line x1="118.5" y1="538.12" x2="116.5" y2="539.28" stroke="#1e1e1e" stroke-width="0.55"/>
<circle cx="131.1" cy="536.2" r="0.75" fill="#1e1e1e"/>
<line x1="131.1" y1="535.05" x2="131.1" y2="537.35" stroke="#1e1e1e" stroke-width="0.55"/>
<line x1="130.1" y1="535.62" x2="132.1" y2="536.78" stroke="#1e1e1e" stroke-width="0.55"/>
<line x1="132.1" y1="535.62" x2="130.1" y2="536.78" stroke="#1e1e1e" stroke-width="0.55"/>
<circle cx="134.3" cy="536.2" r="0.75" fill="#1e1e1e"/>
<line x1="134.3" y1="535.05" x2="134.3" y2="537.35" stroke="#1e1e1e" stroke-width="0.55"/>
<line x1="133.3" y1="535.62" x2="135.3" y2="536.78" stroke="#1e1e1e" stroke-width="0.55"/>
<line x1="135.3" y1="535.62" x2="133.3" y2="536.78" stroke="#1e1e1e" stroke-width="0.55"/>
<circle cx="137.5" cy="536.2" r="0.75" fill="#1e1e1e"/>
<line x1="137.5" y1="535.05" x2="137.5" y2="537.35" stroke="#1e1e1e" stroke-width="0.55"/>
<line x1="136.5" y1="535.62" x2="138.5" y2="536.78" stroke="#1e1e1e" stroke-width="0.55"/>
<line x1="138.5" y1="535.62" x2="136.5" y2="536.78" stroke="#1e1e1e" stroke-width="0.55"/>
<circle cx="163.1" cy="533" r="0.75" fill="#1e1e1e"/>
<line x1="163.1" y1="531.85" x2="163.1" y2="534.15" stroke="#1e1e1e" stroke-width="0.55"/>
<line x1="162.1" y1="532.42" x2="164.1" y2="533.58" stroke="#1e1e1e" stroke-width="0.55"/>
<line x1="164.1" y1="532.42" x2="162.1" y2="533.58" stroke="#1e1e1e" stroke-width="0.55"/>
<circle cx="166.3" cy="533" r="0.75" fill="#1e1e1e"/>
<line x1="166.3" y1="531.85" x2="166.3" y2="534.15" stroke="#1e1e1e" stroke-width="0.55"/>
<line x1="165.3" y1="532.42" x2="167.3" y2="533.58" stroke="#1e1e1e" stroke-width="0.55"/>
<line x1="167.3" y1="532.42" x2="165.3" y2="533.58" stroke="#1e1e1e" stroke-width="0.55"/>
<circle cx="169.5" cy="533" r="0.75" fill="#1e1e1e"/>
<line x1="169.5" y1="531.85" x2="169.5" y2="534.15" stroke="#1e1e1e" stroke-width="0.55"/>
<line x1="168.5" y1="532.42" x2="170.5" y2="533.58" stroke="#1e1e1e" stroke-width="0.55"/>
<line x1="170.5" y1="532.42" x2="168.5" y2="533.58" stroke="#1e1e1e" stroke-width="0.55"/>
<text x="172.5" y="548" font-size="8.3" text-anchor="start" fill="#1c1c1c" stroke="#1c1c1c" stroke-width="0.13" textLength="21.4" lengthAdjust="spacingAndGlyphs">TMX1</text>
<text x="194.4" y="545.18" font-size="6.47" text-anchor="start" fill="#1c1c1c" stroke="#1c1c1c" stroke-width="0.12" textLength="6" lengthAdjust="spacingAndGlyphs">-/-</text>
<text x="172.5" y="591.3" font-size="8.3" text-anchor="start" fill="#1c1c1c" stroke="#1c1c1c" stroke-width="0.13" textLength="21.4" lengthAdjust="spacingAndGlyphs">TMX1</text>
<text x="194.4" y="588.48" font-size="6.47" text-anchor="start" fill="#1c1c1c" stroke="#1c1c1c" stroke-width="0.12" textLength="8.5" lengthAdjust="spacingAndGlyphs">+/+</text>
<text x="216.5" y="519.4" font-size="11.8" text-anchor="start" fill="#000" stroke="#000" stroke-width="0.4" textLength="8.4" lengthAdjust="spacingAndGlyphs" font-weight="bold">H</text>
<text x="316.9" y="520.2" font-size="9" text-anchor="middle" fill="#1c1c1c" stroke="#1c1c1c" stroke-width="0.13" textLength="64.2" lengthAdjust="spacingAndGlyphs">Tail bleeding time</text>
<line x1="247" y1="532.5" x2="247" y2="629.2" stroke="#111" stroke-width="1.1" />
<line x1="246.5" y1="628.7" x2="387.2" y2="628.7" stroke="#111" stroke-width="1.1" />
<line x1="243.8" y1="535.1" x2="247" y2="535.1" stroke="#111" stroke-width="0.9" />
<text x="240.7" y="537.8" font-size="8.4" text-anchor="end" fill="#1c1c1c" stroke="#1c1c1c" stroke-width="0.13" textLength="7.9" lengthAdjust="spacingAndGlyphs">15</text>
<line x1="243.8" y1="566.3" x2="247" y2="566.3" stroke="#111" stroke-width="0.9" />
<text x="240.7" y="569" font-size="8.4" text-anchor="end" fill="#1c1c1c" stroke="#1c1c1c" stroke-width="0.13" textLength="7.9" lengthAdjust="spacingAndGlyphs">10</text>
<line x1="243.8" y1="597.5" x2="247" y2="597.5" stroke="#111" stroke-width="0.9" />
<text x="240.7" y="600.2" font-size="8.4" text-anchor="end" fill="#1c1c1c" stroke="#1c1c1c" stroke-width="0.13" textLength="3.8" lengthAdjust="spacingAndGlyphs">5</text>
<line x1="243.8" y1="628.7" x2="247" y2="628.7" stroke="#111" stroke-width="0.9" />
<text x="240.7" y="631.4" font-size="8.4" text-anchor="end" fill="#1c1c1c" stroke="#1c1c1c" stroke-width="0.13" textLength="3.8" lengthAdjust="spacingAndGlyphs">0</text>
<text x="227.5" y="580" font-size="9.2" text-anchor="middle" fill="#1c1c1c" stroke="#1c1c1c" stroke-width="0.1" textLength="37.5" lengthAdjust="spacingAndGlyphs" transform="rotate(-90 227.5 580)">Time (min)</text>
<line x1="281.8" y1="628.7" x2="281.8" y2="631.5" stroke="#111" stroke-width="0.9" />
<line x1="352.2" y1="628.7" x2="352.2" y2="631.5" stroke="#111" stroke-width="0.9" />
<text x="266.7" y="644.5" font-size="8.3" text-anchor="start" fill="#1c1c1c" stroke="#1c1c1c" stroke-width="0.13" textLength="21.4" lengthAdjust="spacingAndGlyphs">TMX1</text>
<text x="288.6" y="641.68" font-size="6.47" text-anchor="start" fill="#1c1c1c" stroke="#1c1c1c" stroke-width="0.12" textLength="8.5" lengthAdjust="spacingAndGlyphs">+/+</text>
<text x="281.8" y="653.6" font-size="8.3" text-anchor="middle" fill="#1c1c1c" stroke="#1c1c1c" stroke-width="0.13" textLength="28" lengthAdjust="spacingAndGlyphs">(n = 21)</text>
<text x="338.35" y="644.5" font-size="8.3" text-anchor="start" fill="#1c1c1c" stroke="#1c1c1c" stroke-width="0.13" textLength="21.4" lengthAdjust="spacingAndGlyphs">TMX1</text>
<text x="360.25" y="641.68" font-size="6.47" text-anchor="start" fill="#1c1c1c" stroke="#1c1c1c" stroke-width="0.12" textLength="6" lengthAdjust="spacingAndGlyphs">-/-</text>
<text x="352.2" y="653.6" font-size="8.3" text-anchor="middle" fill="#1c1c1c" stroke="#1c1c1c" stroke-width="0.13" textLength="28" lengthAdjust="spacingAndGlyphs">(n = 19)</text>
<path d="M275.5,536.5 L275.5,533.2 Q275.5,531.6 277.1,531.6 L351,531.6 Q352.6,531.6 352.6,533.2 L352.6,536.5" fill="none" stroke="#1a1a1a" stroke-width="1"/>
<circle cx="310.6" cy="528.7" r="0.75" fill="#1e1e1e"/>
<line x1="310.6" y1="527.55" x2="310.6" y2="529.85" stroke="#1e1e1e" stroke-width="0.55"/>
<line x1="309.6" y1="528.12" x2="311.6" y2="529.28" stroke="#1e1e1e" stroke-width="0.55"/>
<line x1="311.6" y1="528.12" x2="309.6" y2="529.28" stroke="#1e1e1e" stroke-width="0.55"/>
<circle cx="313.8" cy="528.7" r="0.75" fill="#1e1e1e"/>
<line x1="313.8" y1="527.55" x2="313.8" y2="529.85" stroke="#1e1e1e" stroke-width="0.55"/>
<line x1="312.8" y1="528.12" x2="314.8" y2="529.28" stroke="#1e1e1e" stroke-width="0.55"/>
<line x1="314.8" y1="528.12" x2="312.8" y2="529.28" stroke="#1e1e1e" stroke-width="0.55"/>
<circle cx="317" cy="528.7" r="0.75" fill="#1e1e1e"/>
<line x1="317" y1="527.55" x2="317" y2="529.85" stroke="#1e1e1e" stroke-width="0.55"/>
<line x1="316" y1="528.12" x2="318" y2="529.28" stroke="#1e1e1e" stroke-width="0.55"/>
<line x1="318" y1="528.12" x2="316" y2="529.28" stroke="#1e1e1e" stroke-width="0.55"/>
<line x1="258.4" y1="591.9" x2="305.4" y2="591.9" stroke="#555" stroke-width="1.3" />
<line x1="328.8" y1="608.9" x2="375.4" y2="608.9" stroke="#555" stroke-width="1.3" />
<circle cx="281.89" cy="535.45" r="1.6" fill="#a2072d"/>
<circle cx="277.54" cy="581.58" r="1.6" fill="#a2072d"/>
<circle cx="281.89" cy="581.58" r="1.6" fill="#a2072d"/>
<circle cx="273.34" cy="588.23" r="1.6" fill="#a2072d"/>
<circle cx="281.89" cy="587.69" r="1.6" fill="#a2072d"/>
<circle cx="286.23" cy="588.36" r="1.6" fill="#a2072d"/>
<circle cx="277.54" cy="590.4" r="1.6" fill="#a2072d"/>
<circle cx="281.89" cy="591.89" r="1.6" fill="#a2072d"/>
<circle cx="273.34" cy="593.25" r="1.6" fill="#a2072d"/>
<circle cx="290.43" cy="593.79" r="1.6" fill="#a2072d"/>
<circle cx="277.54" cy="595.96" r="1.6" fill="#a2072d"/>
<circle cx="281.89" cy="596.51" r="1.6" fill="#a2072d"/>
<circle cx="286.23" cy="596.51" r="1.6" fill="#a2072d"/>
<circle cx="269.13" cy="597.86" r="1.6" fill="#a2072d"/>
<circle cx="273.34" cy="599.9" r="1.6" fill="#a2072d"/>
<circle cx="290.43" cy="599.36" r="1.6" fill="#a2072d"/>
<circle cx="277.54" cy="600.98" r="1.6" fill="#a2072d"/>
<circle cx="281.89" cy="601.26" r="1.6" fill="#a2072d"/>
<circle cx="286.23" cy="600.58" r="1.6" fill="#a2072d"/>
<circle cx="286.23" cy="603.43" r="1.6" fill="#a2072d"/>
<circle cx="281.89" cy="607.36" r="1.6" fill="#a2072d"/>
<circle cx="352.16" cy="587.64" r="1.6" fill="#a2072d"/>
<circle cx="352.16" cy="594.83" r="1.6" fill="#a2072d"/>
<circle cx="352.16" cy="601.21" r="1.6" fill="#a2072d"/>
<circle cx="343.74" cy="605.55" r="1.6" fill="#a2072d"/>
<circle cx="364.78" cy="604.87" r="1.6" fill="#a2072d"/>
<circle cx="360.43" cy="605.55" r="1.6" fill="#a2072d"/>
<circle cx="347.95" cy="606.36" r="1.6" fill="#a2072d"/>
<circle cx="356.36" cy="606.36" r="1.6" fill="#a2072d"/>
<circle cx="352.16" cy="607.04" r="1.6" fill="#a2072d"/>
<circle cx="343.74" cy="609.35" r="1.6" fill="#a2072d"/>
<circle cx="356.36" cy="610.03" r="1.6" fill="#a2072d"/>
<circle cx="347.95" cy="612.33" r="1.6" fill="#a2072d"/>
<circle cx="352.16" cy="612.33" r="1.6" fill="#a2072d"/>
<circle cx="343.74" cy="616.13" r="1.6" fill="#a2072d"/>
<circle cx="364.78" cy="616.13" r="1.6" fill="#a2072d"/>
<circle cx="360.43" cy="617.76" r="1.6" fill="#a2072d"/>
<circle cx="347.95" cy="619.12" r="1.6" fill="#a2072d"/>
<circle cx="356.36" cy="619.53" r="1.6" fill="#a2072d"/>
<circle cx="352.16" cy="620.2" r="1.6" fill="#a2072d"/>
<rect x="0.5" y="0.5" width="519" height="662" fill="none" stroke="#000" stroke-width="1.2"/>
</svg>
</body></html>
